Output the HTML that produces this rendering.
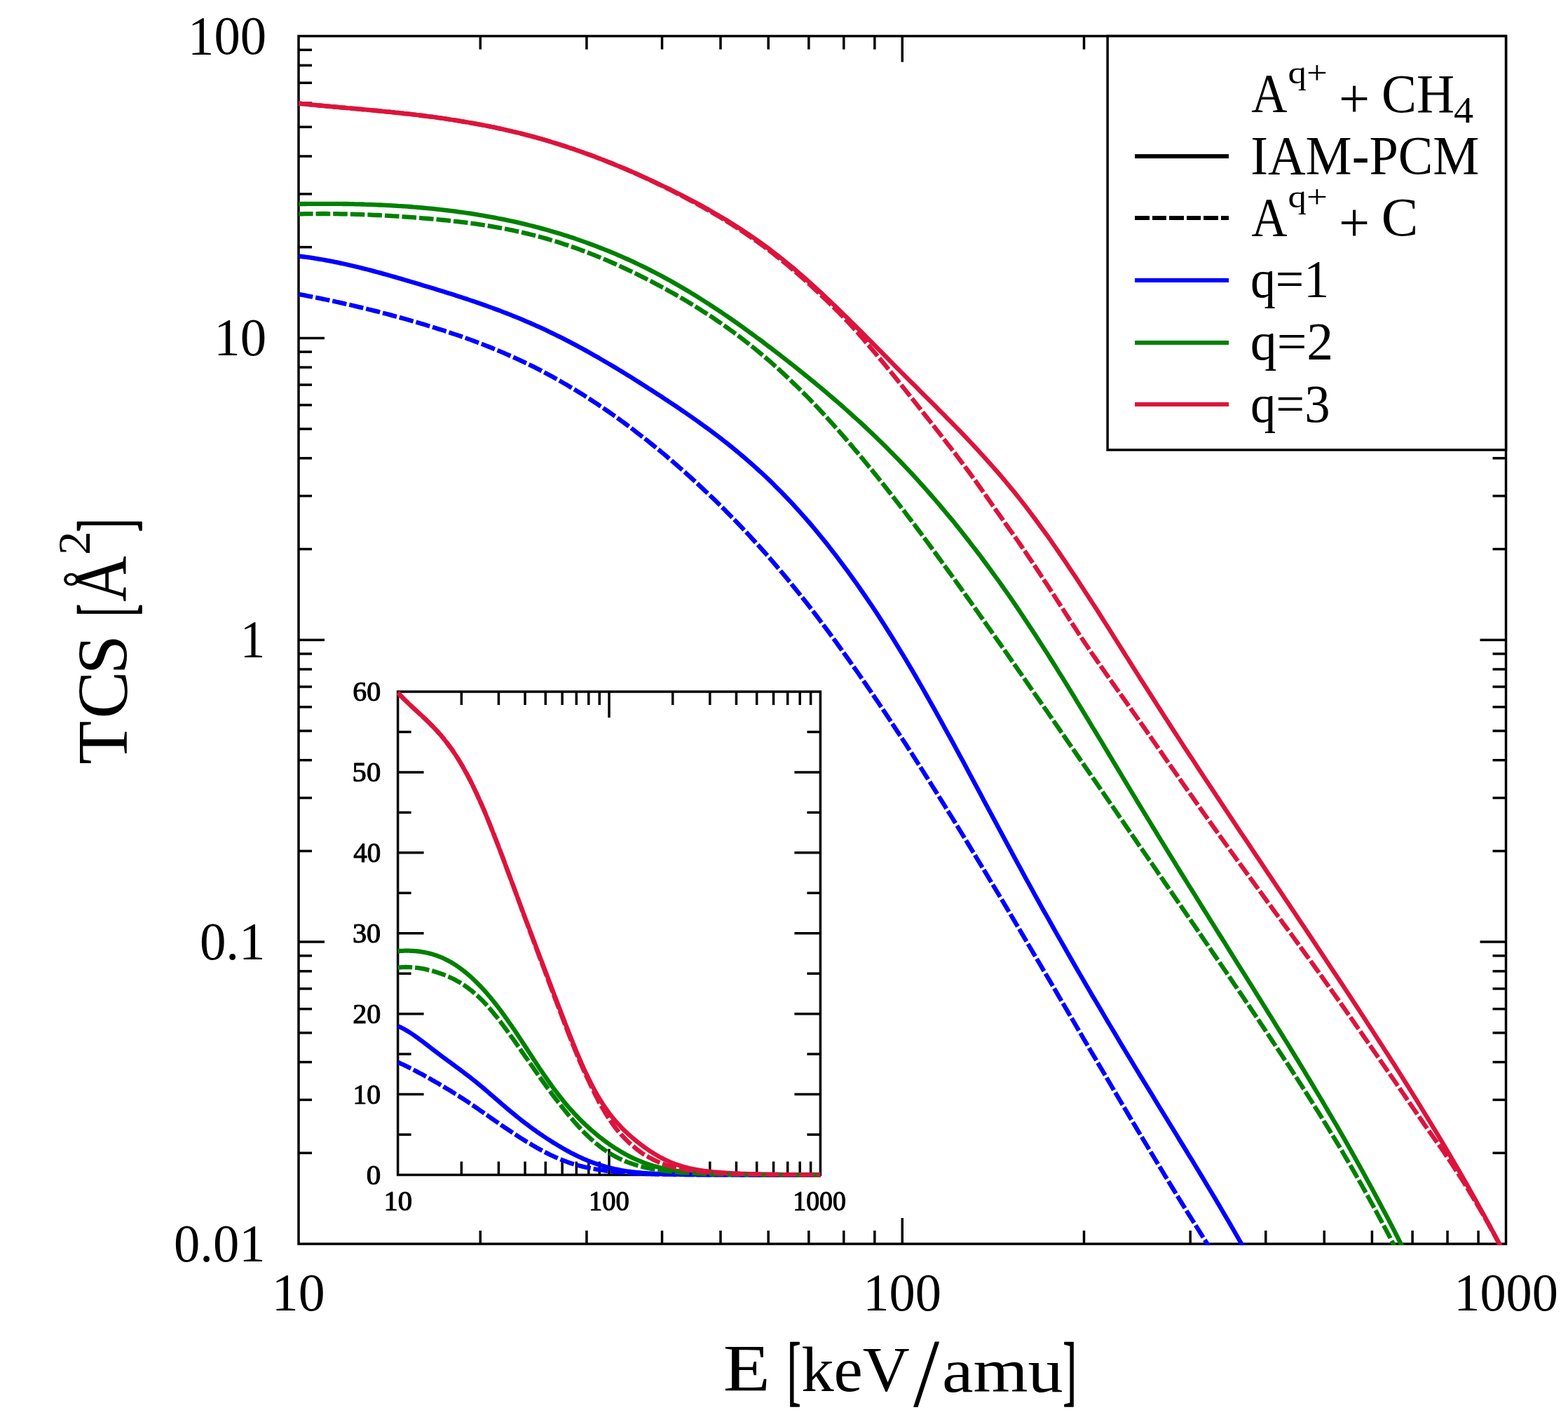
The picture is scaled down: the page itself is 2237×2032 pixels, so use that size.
<!DOCTYPE html>
<html lang="en"><head><meta charset="utf-8"><title>TCS vs E</title>
<style>html,body{margin:0;padding:0;background:#fff}svg{display:block}text{font-family:"Liberation Serif","DejaVu Serif",serif;fill:#000}</style>
</head><body>
<svg xmlns="http://www.w3.org/2000/svg" width="2237" height="2032" viewBox="0 0 2237 2032">
<rect x="0" y="0" width="2237" height="2032" fill="#fff"/>
<defs><clipPath id="cm"><rect x="424.0" y="49.5" width="1726.5" height="1727.5"/></clipPath>
<clipPath id="ci"><rect x="565.6" y="985.0" width="606.8" height="695.5"/></clipPath></defs>
<rect x="426.00" y="51.50" width="1722.50" height="1723.50" fill="none" stroke="#000" stroke-width="3.5"/>
<g stroke="#000" stroke-width="3.5" fill="none">
<line x1="685.26" y1="1775.00" x2="685.26" y2="1756.00"/>
<line x1="685.26" y1="51.50" x2="685.26" y2="70.50"/>
<line x1="836.92" y1="1775.00" x2="836.92" y2="1756.00"/>
<line x1="836.92" y1="51.50" x2="836.92" y2="70.50"/>
<line x1="944.52" y1="1775.00" x2="944.52" y2="1756.00"/>
<line x1="944.52" y1="51.50" x2="944.52" y2="70.50"/>
<line x1="1027.99" y1="1775.00" x2="1027.99" y2="1756.00"/>
<line x1="1027.99" y1="51.50" x2="1027.99" y2="70.50"/>
<line x1="1096.18" y1="1775.00" x2="1096.18" y2="1756.00"/>
<line x1="1096.18" y1="51.50" x2="1096.18" y2="70.50"/>
<line x1="1153.84" y1="1775.00" x2="1153.84" y2="1756.00"/>
<line x1="1153.84" y1="51.50" x2="1153.84" y2="70.50"/>
<line x1="1203.79" y1="1775.00" x2="1203.79" y2="1756.00"/>
<line x1="1203.79" y1="51.50" x2="1203.79" y2="70.50"/>
<line x1="1247.84" y1="1775.00" x2="1247.84" y2="1756.00"/>
<line x1="1247.84" y1="51.50" x2="1247.84" y2="70.50"/>
<line x1="1287.25" y1="1775.00" x2="1287.25" y2="1738.00"/>
<line x1="1287.25" y1="51.50" x2="1287.25" y2="88.50"/>
<line x1="1546.51" y1="1775.00" x2="1546.51" y2="1756.00"/>
<line x1="1546.51" y1="51.50" x2="1546.51" y2="70.50"/>
<line x1="1698.17" y1="1775.00" x2="1698.17" y2="1756.00"/>
<line x1="1698.17" y1="51.50" x2="1698.17" y2="70.50"/>
<line x1="1805.77" y1="1775.00" x2="1805.77" y2="1756.00"/>
<line x1="1805.77" y1="51.50" x2="1805.77" y2="70.50"/>
<line x1="1889.24" y1="1775.00" x2="1889.24" y2="1756.00"/>
<line x1="1889.24" y1="51.50" x2="1889.24" y2="70.50"/>
<line x1="1957.43" y1="1775.00" x2="1957.43" y2="1756.00"/>
<line x1="1957.43" y1="51.50" x2="1957.43" y2="70.50"/>
<line x1="2015.09" y1="1775.00" x2="2015.09" y2="1756.00"/>
<line x1="2015.09" y1="51.50" x2="2015.09" y2="70.50"/>
<line x1="2065.04" y1="1775.00" x2="2065.04" y2="1756.00"/>
<line x1="2065.04" y1="51.50" x2="2065.04" y2="70.50"/>
<line x1="2109.09" y1="1775.00" x2="2109.09" y2="1756.00"/>
<line x1="2109.09" y1="51.50" x2="2109.09" y2="70.50"/>
<line x1="426.00" y1="1645.29" x2="445.00" y2="1645.29"/>
<line x1="2148.50" y1="1645.29" x2="2129.50" y2="1645.29"/>
<line x1="426.00" y1="1569.42" x2="445.00" y2="1569.42"/>
<line x1="2148.50" y1="1569.42" x2="2129.50" y2="1569.42"/>
<line x1="426.00" y1="1515.59" x2="445.00" y2="1515.59"/>
<line x1="2148.50" y1="1515.59" x2="2129.50" y2="1515.59"/>
<line x1="426.00" y1="1473.83" x2="445.00" y2="1473.83"/>
<line x1="2148.50" y1="1473.83" x2="2129.50" y2="1473.83"/>
<line x1="426.00" y1="1439.71" x2="445.00" y2="1439.71"/>
<line x1="2148.50" y1="1439.71" x2="2129.50" y2="1439.71"/>
<line x1="426.00" y1="1410.87" x2="445.00" y2="1410.87"/>
<line x1="2148.50" y1="1410.87" x2="2129.50" y2="1410.87"/>
<line x1="426.00" y1="1385.88" x2="445.00" y2="1385.88"/>
<line x1="2148.50" y1="1385.88" x2="2129.50" y2="1385.88"/>
<line x1="426.00" y1="1363.84" x2="445.00" y2="1363.84"/>
<line x1="2148.50" y1="1363.84" x2="2129.50" y2="1363.84"/>
<line x1="426.00" y1="1344.12" x2="463.00" y2="1344.12"/>
<line x1="2148.50" y1="1344.12" x2="2111.50" y2="1344.12"/>
<line x1="426.00" y1="1214.42" x2="445.00" y2="1214.42"/>
<line x1="2148.50" y1="1214.42" x2="2129.50" y2="1214.42"/>
<line x1="426.00" y1="1138.55" x2="445.00" y2="1138.55"/>
<line x1="2148.50" y1="1138.55" x2="2129.50" y2="1138.55"/>
<line x1="426.00" y1="1084.71" x2="445.00" y2="1084.71"/>
<line x1="2148.50" y1="1084.71" x2="2129.50" y2="1084.71"/>
<line x1="426.00" y1="1042.96" x2="445.00" y2="1042.96"/>
<line x1="2148.50" y1="1042.96" x2="2129.50" y2="1042.96"/>
<line x1="426.00" y1="1008.84" x2="445.00" y2="1008.84"/>
<line x1="2148.50" y1="1008.84" x2="2129.50" y2="1008.84"/>
<line x1="426.00" y1="979.99" x2="445.00" y2="979.99"/>
<line x1="2148.50" y1="979.99" x2="2129.50" y2="979.99"/>
<line x1="426.00" y1="955.01" x2="445.00" y2="955.01"/>
<line x1="2148.50" y1="955.01" x2="2129.50" y2="955.01"/>
<line x1="426.00" y1="932.97" x2="445.00" y2="932.97"/>
<line x1="2148.50" y1="932.97" x2="2129.50" y2="932.97"/>
<line x1="426.00" y1="913.25" x2="463.00" y2="913.25"/>
<line x1="2148.50" y1="913.25" x2="2111.50" y2="913.25"/>
<line x1="426.00" y1="783.54" x2="445.00" y2="783.54"/>
<line x1="2148.50" y1="783.54" x2="2129.50" y2="783.54"/>
<line x1="426.00" y1="707.67" x2="445.00" y2="707.67"/>
<line x1="2148.50" y1="707.67" x2="2129.50" y2="707.67"/>
<line x1="426.00" y1="653.84" x2="445.00" y2="653.84"/>
<line x1="2148.50" y1="653.84" x2="2129.50" y2="653.84"/>
<line x1="426.00" y1="612.08" x2="445.00" y2="612.08"/>
<line x1="2148.50" y1="612.08" x2="2129.50" y2="612.08"/>
<line x1="426.00" y1="577.96" x2="445.00" y2="577.96"/>
<line x1="2148.50" y1="577.96" x2="2129.50" y2="577.96"/>
<line x1="426.00" y1="549.12" x2="445.00" y2="549.12"/>
<line x1="2148.50" y1="549.12" x2="2129.50" y2="549.12"/>
<line x1="426.00" y1="524.13" x2="445.00" y2="524.13"/>
<line x1="2148.50" y1="524.13" x2="2129.50" y2="524.13"/>
<line x1="426.00" y1="502.09" x2="445.00" y2="502.09"/>
<line x1="2148.50" y1="502.09" x2="2129.50" y2="502.09"/>
<line x1="426.00" y1="482.38" x2="463.00" y2="482.38"/>
<line x1="2148.50" y1="482.38" x2="2111.50" y2="482.38"/>
<line x1="426.00" y1="352.67" x2="445.00" y2="352.67"/>
<line x1="2148.50" y1="352.67" x2="2129.50" y2="352.67"/>
<line x1="426.00" y1="276.80" x2="445.00" y2="276.80"/>
<line x1="2148.50" y1="276.80" x2="2129.50" y2="276.80"/>
<line x1="426.00" y1="222.96" x2="445.00" y2="222.96"/>
<line x1="2148.50" y1="222.96" x2="2129.50" y2="222.96"/>
<line x1="426.00" y1="181.21" x2="445.00" y2="181.21"/>
<line x1="2148.50" y1="181.21" x2="2129.50" y2="181.21"/>
<line x1="426.00" y1="147.09" x2="445.00" y2="147.09"/>
<line x1="2148.50" y1="147.09" x2="2129.50" y2="147.09"/>
<line x1="426.00" y1="118.24" x2="445.00" y2="118.24"/>
<line x1="2148.50" y1="118.24" x2="2129.50" y2="118.24"/>
<line x1="426.00" y1="93.26" x2="445.00" y2="93.26"/>
<line x1="2148.50" y1="93.26" x2="2129.50" y2="93.26"/>
<line x1="426.00" y1="71.22" x2="445.00" y2="71.22"/>
<line x1="2148.50" y1="71.22" x2="2129.50" y2="71.22"/>
</g>
<path d="M426.0,365.5 L430.3,366.0 L434.6,366.5 L438.9,367.1 L443.2,367.7 L447.5,368.4 L451.8,369.1 L456.1,369.8 L460.5,370.5 L464.8,371.3 L469.1,372.1 L473.4,372.9 L477.7,373.8 L482.0,374.7 L486.3,375.6 L490.6,376.5 L494.9,377.5 L499.2,378.5 L503.5,379.5 L507.8,380.5 L512.1,381.5 L516.4,382.6 L520.7,383.7 L525.0,384.8 L529.4,385.9 L533.7,387.1 L538.0,388.2 L542.3,389.4 L546.6,390.6 L550.9,391.8 L555.2,393.0 L559.5,394.2 L563.8,395.4 L568.1,396.7 L572.4,397.9 L576.7,399.2 L581.0,400.5 L585.3,401.7 L589.6,403.0 L593.9,404.3 L598.2,405.6 L602.6,406.9 L606.9,408.2 L611.2,409.5 L615.5,410.8 L619.8,412.1 L624.1,413.4 L628.4,414.7 L632.7,416.1 L637.0,417.4 L641.3,418.8 L645.6,420.1 L649.9,421.5 L654.2,422.9 L658.5,424.3 L662.8,425.7 L667.2,427.1 L671.5,428.6 L675.8,430.0 L680.1,431.5 L684.4,433.0 L688.7,434.5 L693.0,436.0 L697.3,437.6 L701.6,439.1 L705.9,440.7 L710.2,442.3 L714.5,443.9 L718.8,445.6 L723.1,447.3 L727.4,448.9 L731.7,450.7 L736.1,452.4 L740.4,454.2 L744.7,455.9 L749.0,457.8 L753.3,459.6 L757.6,461.5 L761.9,463.4 L766.2,465.3 L770.5,467.2 L774.8,469.2 L779.1,471.2 L783.4,473.3 L787.7,475.4 L792.0,477.5 L796.3,479.6 L800.6,481.7 L804.9,483.9 L809.3,486.1 L813.6,488.4 L817.9,490.6 L822.2,492.9 L826.5,495.2 L830.8,497.6 L835.1,499.9 L839.4,502.3 L843.7,504.7 L848.0,507.2 L852.3,509.6 L856.6,512.1 L860.9,514.6 L865.2,517.1 L869.5,519.6 L873.9,522.2 L878.2,524.8 L882.5,527.4 L886.8,530.0 L891.1,532.6 L895.4,535.3 L899.7,537.9 L904.0,540.6 L908.3,543.3 L912.6,546.0 L916.9,548.8 L921.2,551.5 L925.5,554.3 L929.8,557.0 L934.1,559.8 L938.4,562.6 L942.8,565.4 L947.1,568.3 L951.4,571.1 L955.7,574.0 L960.0,576.8 L964.3,579.7 L968.6,582.6 L972.9,585.6 L977.2,588.5 L981.5,591.5 L985.8,594.5 L990.1,597.5 L994.4,600.5 L998.7,603.6 L1003.0,606.7 L1007.3,609.9 L1011.7,613.0 L1016.0,616.3 L1020.3,619.5 L1024.6,622.8 L1028.9,626.1 L1033.2,629.4 L1037.5,632.8 L1041.8,636.3 L1046.1,639.8 L1050.4,643.3 L1054.7,646.9 L1059.0,650.5 L1063.3,654.2 L1067.6,657.9 L1071.9,661.6 L1076.2,665.5 L1080.5,669.4 L1084.9,673.3 L1089.2,677.3 L1093.5,681.3 L1097.8,685.4 L1102.1,689.6 L1106.4,693.9 L1110.7,698.2 L1115.0,702.5 L1119.3,707.0 L1123.6,711.5 L1127.9,716.0 L1132.2,720.7 L1136.5,725.4 L1140.8,730.1 L1145.1,735.0 L1149.5,739.9 L1153.8,744.9 L1158.1,749.9 L1162.4,755.0 L1166.7,760.2 L1171.0,765.4 L1175.3,770.8 L1179.6,776.1 L1183.9,781.6 L1188.2,787.1 L1192.5,792.7 L1196.8,798.4 L1201.1,804.1 L1205.4,809.9 L1209.7,815.7 L1214.0,821.7 L1218.3,827.7 L1222.7,833.7 L1227.0,839.9 L1231.3,846.1 L1235.6,852.4 L1239.9,858.7 L1244.2,865.1 L1248.5,871.6 L1252.8,878.1 L1257.1,884.7 L1261.4,891.4 L1265.7,898.2 L1270.0,905.0 L1274.3,911.9 L1278.6,918.8 L1282.9,925.8 L1287.2,932.9 L1291.6,940.1 L1295.9,947.3 L1300.2,954.6 L1304.5,961.9 L1308.8,969.3 L1313.1,976.8 L1317.4,984.3 L1321.7,991.9 L1326.0,999.5 L1330.3,1007.1 L1334.6,1014.8 L1338.9,1022.6 L1343.2,1030.3 L1347.5,1038.2 L1351.8,1046.0 L1356.2,1053.9 L1360.5,1061.8 L1364.8,1069.7 L1369.1,1077.7 L1373.4,1085.6 L1377.7,1093.6 L1382.0,1101.7 L1386.3,1109.7 L1390.6,1117.7 L1394.9,1125.8 L1399.2,1133.8 L1403.5,1141.9 L1407.8,1149.9 L1412.1,1158.0 L1416.4,1166.1 L1420.7,1174.1 L1425.1,1182.2 L1429.4,1190.2 L1433.7,1198.2 L1438.0,1206.3 L1442.3,1214.2 L1446.6,1222.2 L1450.9,1230.2 L1455.2,1238.1 L1459.5,1246.0 L1463.8,1253.9 L1468.1,1261.7 L1472.4,1269.6 L1476.7,1277.4 L1481.0,1285.1 L1485.3,1292.9 L1489.6,1300.6 L1494.0,1308.3 L1498.3,1315.9 L1502.6,1323.6 L1506.9,1331.2 L1511.2,1338.8 L1515.5,1346.3 L1519.8,1353.9 L1524.1,1361.4 L1528.4,1368.9 L1532.7,1376.4 L1537.0,1383.8 L1541.3,1391.3 L1545.6,1398.7 L1549.9,1406.1 L1554.2,1413.4 L1558.5,1420.8 L1562.9,1428.1 L1567.2,1435.4 L1571.5,1442.7 L1575.8,1450.0 L1580.1,1457.3 L1584.4,1464.5 L1588.7,1471.7 L1593.0,1478.9 L1597.3,1486.1 L1601.6,1493.3 L1605.9,1500.5 L1610.2,1507.6 L1614.5,1514.7 L1618.8,1521.8 L1623.1,1528.9 L1627.4,1536.0 L1631.8,1543.1 L1636.1,1550.2 L1640.4,1557.2 L1644.7,1564.2 L1649.0,1571.3 L1653.3,1578.3 L1657.6,1585.3 L1661.9,1592.3 L1666.2,1599.4 L1670.5,1606.4 L1674.8,1613.4 L1679.1,1620.4 L1683.4,1627.5 L1687.7,1634.5 L1692.0,1641.5 L1696.3,1648.6 L1700.7,1655.7 L1705.0,1662.8 L1709.3,1669.9 L1713.6,1677.0 L1717.9,1684.1 L1722.2,1691.3 L1726.5,1698.5 L1730.8,1705.7 L1735.1,1712.9 L1739.4,1720.2 L1743.7,1727.5 L1748.0,1734.8 L1752.3,1742.2 L1756.6,1749.6 L1760.9,1757.0 L1765.2,1764.5 L1769.5,1772.0 L1773.9,1779.6 L1778.2,1787.1 L1782.5,1794.7 L1786.8,1802.2 L1791.1,1809.8" fill="none" stroke="#0000ff" stroke-width="6.3" stroke-linejoin="round" clip-path="url(#cm)"/>
<path d="M426.0,291.1 L430.3,291.0 L434.6,291.0 L438.9,290.9 L443.2,290.9 L447.5,290.8 L451.8,290.8 L456.1,290.8 L460.5,290.8 L464.8,290.8 L469.1,290.8 L473.4,290.8 L477.7,290.8 L482.0,290.9 L486.3,290.9 L490.6,291.0 L494.9,291.0 L499.2,291.1 L503.5,291.2 L507.8,291.3 L512.1,291.4 L516.4,291.5 L520.7,291.7 L525.0,291.8 L529.4,291.9 L533.7,292.1 L538.0,292.3 L542.3,292.5 L546.6,292.7 L550.9,292.9 L555.2,293.1 L559.5,293.3 L563.8,293.6 L568.1,293.9 L572.4,294.1 L576.7,294.4 L581.0,294.7 L585.3,295.0 L589.6,295.4 L593.9,295.7 L598.2,296.1 L602.6,296.5 L606.9,296.9 L611.2,297.3 L615.5,297.7 L619.8,298.1 L624.1,298.6 L628.4,299.1 L632.7,299.6 L637.0,300.1 L641.3,300.6 L645.6,301.1 L649.9,301.7 L654.2,302.3 L658.5,302.9 L662.8,303.5 L667.2,304.1 L671.5,304.7 L675.8,305.4 L680.1,306.1 L684.4,306.8 L688.7,307.5 L693.0,308.3 L697.3,309.1 L701.6,309.8 L705.9,310.6 L710.2,311.5 L714.5,312.3 L718.8,313.2 L723.1,314.1 L727.4,315.0 L731.7,315.9 L736.1,316.9 L740.4,317.9 L744.7,318.9 L749.0,319.9 L753.3,321.0 L757.6,322.0 L761.9,323.1 L766.2,324.3 L770.5,325.4 L774.8,326.6 L779.1,327.8 L783.4,329.0 L787.7,330.2 L792.0,331.5 L796.3,332.8 L800.6,334.1 L804.9,335.5 L809.3,336.8 L813.6,338.2 L817.9,339.6 L822.2,341.1 L826.5,342.6 L830.8,344.1 L835.1,345.6 L839.4,347.2 L843.7,348.7 L848.0,350.4 L852.3,352.0 L856.6,353.7 L860.9,355.4 L865.2,357.1 L869.5,358.8 L873.9,360.6 L878.2,362.4 L882.5,364.3 L886.8,366.2 L891.1,368.1 L895.4,370.0 L899.7,371.9 L904.0,373.9 L908.3,376.0 L912.6,378.0 L916.9,380.1 L921.2,382.2 L925.5,384.4 L929.8,386.6 L934.1,388.8 L938.4,391.0 L942.8,393.3 L947.1,395.6 L951.4,398.0 L955.7,400.3 L960.0,402.8 L964.3,405.2 L968.6,407.7 L972.9,410.2 L977.2,412.7 L981.5,415.3 L985.8,417.9 L990.1,420.5 L994.4,423.2 L998.7,425.9 L1003.0,428.6 L1007.3,431.4 L1011.7,434.2 L1016.0,437.0 L1020.3,439.8 L1024.6,442.7 L1028.9,445.5 L1033.2,448.5 L1037.5,451.4 L1041.8,454.4 L1046.1,457.4 L1050.4,460.4 L1054.7,463.4 L1059.0,466.5 L1063.3,469.6 L1067.6,472.7 L1071.9,475.9 L1076.2,479.0 L1080.5,482.2 L1084.9,485.4 L1089.2,488.6 L1093.5,491.9 L1097.8,495.1 L1102.1,498.4 L1106.4,501.7 L1110.7,505.0 L1115.0,508.4 L1119.3,511.7 L1123.6,515.1 L1127.9,518.5 L1132.2,521.9 L1136.5,525.3 L1140.8,528.7 L1145.1,532.2 L1149.5,535.7 L1153.8,539.2 L1158.1,542.7 L1162.4,546.2 L1166.7,549.8 L1171.0,553.4 L1175.3,557.0 L1179.6,560.6 L1183.9,564.3 L1188.2,568.0 L1192.5,571.7 L1196.8,575.4 L1201.1,579.2 L1205.4,583.0 L1209.7,586.8 L1214.0,590.7 L1218.3,594.6 L1222.7,598.5 L1227.0,602.4 L1231.3,606.4 L1235.6,610.4 L1239.9,614.5 L1244.2,618.6 L1248.5,622.7 L1252.8,626.9 L1257.1,631.0 L1261.4,635.3 L1265.7,639.6 L1270.0,643.9 L1274.3,648.2 L1278.6,652.6 L1282.9,657.0 L1287.2,661.5 L1291.6,666.1 L1295.9,670.6 L1300.2,675.2 L1304.5,679.9 L1308.8,684.6 L1313.1,689.3 L1317.4,694.1 L1321.7,699.0 L1326.0,703.9 L1330.3,708.8 L1334.6,713.8 L1338.9,718.8 L1343.2,723.9 L1347.5,729.0 L1351.8,734.2 L1356.2,739.4 L1360.5,744.6 L1364.8,750.0 L1369.1,755.3 L1373.4,760.7 L1377.7,766.2 L1382.0,771.7 L1386.3,777.3 L1390.6,782.9 L1394.9,788.5 L1399.2,794.2 L1403.5,800.0 L1407.8,805.8 L1412.1,811.6 L1416.4,817.6 L1420.7,823.5 L1425.1,829.5 L1429.4,835.6 L1433.7,841.7 L1438.0,847.8 L1442.3,854.0 L1446.6,860.3 L1450.9,866.6 L1455.2,873.0 L1459.5,879.4 L1463.8,885.9 L1468.1,892.4 L1472.4,898.9 L1476.7,905.5 L1481.0,912.2 L1485.3,918.9 L1489.6,925.6 L1494.0,932.4 L1498.3,939.2 L1502.6,946.0 L1506.9,952.9 L1511.2,959.8 L1515.5,966.7 L1519.8,973.7 L1524.1,980.7 L1528.4,987.7 L1532.7,994.7 L1537.0,1001.8 L1541.3,1008.8 L1545.6,1015.9 L1549.9,1023.0 L1554.2,1030.1 L1558.5,1037.3 L1562.9,1044.4 L1567.2,1051.6 L1571.5,1058.7 L1575.8,1065.9 L1580.1,1073.0 L1584.4,1080.2 L1588.7,1087.4 L1593.0,1094.5 L1597.3,1101.7 L1601.6,1108.9 L1605.9,1116.0 L1610.2,1123.2 L1614.5,1130.3 L1618.8,1137.4 L1623.1,1144.6 L1627.4,1151.7 L1631.8,1158.8 L1636.1,1165.9 L1640.4,1172.9 L1644.7,1180.0 L1649.0,1187.0 L1653.3,1194.1 L1657.6,1201.1 L1661.9,1208.1 L1666.2,1215.1 L1670.5,1222.1 L1674.8,1229.1 L1679.1,1236.1 L1683.4,1243.0 L1687.7,1250.0 L1692.0,1256.9 L1696.3,1263.9 L1700.7,1270.8 L1705.0,1277.7 L1709.3,1284.6 L1713.6,1291.6 L1717.9,1298.5 L1722.2,1305.4 L1726.5,1312.3 L1730.8,1319.2 L1735.1,1326.1 L1739.4,1333.0 L1743.7,1339.8 L1748.0,1346.7 L1752.3,1353.6 L1756.6,1360.5 L1760.9,1367.4 L1765.2,1374.3 L1769.5,1381.2 L1773.9,1388.1 L1778.2,1394.9 L1782.5,1401.8 L1786.8,1408.7 L1791.1,1415.6 L1795.4,1422.5 L1799.7,1429.4 L1804.0,1436.3 L1808.3,1443.3 L1812.6,1450.2 L1816.9,1457.1 L1821.2,1464.1 L1825.5,1471.0 L1829.8,1478.0 L1834.1,1484.9 L1838.5,1491.9 L1842.8,1499.0 L1847.1,1506.0 L1851.4,1513.0 L1855.7,1520.1 L1860.0,1527.2 L1864.3,1534.3 L1868.6,1541.4 L1872.9,1548.6 L1877.2,1555.8 L1881.5,1563.0 L1885.8,1570.2 L1890.1,1577.5 L1894.4,1584.8 L1898.7,1592.2 L1903.0,1599.5 L1907.4,1606.9 L1911.7,1614.4 L1916.0,1621.9 L1920.3,1629.4 L1924.6,1637.0 L1928.9,1644.6 L1933.2,1652.3 L1937.5,1660.0 L1941.8,1667.7 L1946.1,1675.5 L1950.4,1683.4 L1954.7,1691.3 L1959.0,1699.2 L1963.3,1707.2 L1967.6,1715.3 L1971.9,1723.4 L1976.2,1731.5 L1980.6,1739.8 L1984.9,1748.0 L1989.2,1756.4 L1993.5,1764.8 L1997.8,1773.3 L2002.1,1781.8 L2006.4,1790.3 L2010.7,1798.8 L2015.0,1807.3" fill="none" stroke="#008000" stroke-width="6.3" stroke-linejoin="round" clip-path="url(#cm)"/>
<path d="M426.0,147.5 L430.3,148.0 L434.6,148.4 L438.9,148.8 L443.2,149.3 L447.5,149.7 L451.8,150.1 L456.1,150.5 L460.5,150.9 L464.8,151.3 L469.1,151.7 L473.4,152.1 L477.7,152.5 L482.0,152.9 L486.3,153.3 L490.6,153.7 L494.9,154.1 L499.2,154.4 L503.5,154.8 L507.8,155.2 L512.1,155.6 L516.4,156.0 L520.7,156.4 L525.0,156.8 L529.4,157.2 L533.7,157.6 L538.0,158.0 L542.3,158.4 L546.6,158.8 L550.9,159.3 L555.2,159.7 L559.5,160.1 L563.8,160.6 L568.1,161.0 L572.4,161.5 L576.7,162.0 L581.0,162.4 L585.3,162.9 L589.6,163.4 L593.9,163.9 L598.2,164.5 L602.6,165.0 L606.9,165.5 L611.2,166.1 L615.5,166.6 L619.8,167.2 L624.1,167.8 L628.4,168.4 L632.7,169.0 L637.0,169.7 L641.3,170.3 L645.6,171.0 L649.9,171.7 L654.2,172.4 L658.5,173.1 L662.8,173.8 L667.2,174.5 L671.5,175.3 L675.8,176.1 L680.1,176.8 L684.4,177.6 L688.7,178.5 L693.0,179.3 L697.3,180.2 L701.6,181.0 L705.9,181.9 L710.2,182.9 L714.5,183.8 L718.8,184.7 L723.1,185.7 L727.4,186.7 L731.7,187.7 L736.1,188.8 L740.4,189.8 L744.7,190.9 L749.0,192.0 L753.3,193.1 L757.6,194.2 L761.9,195.4 L766.2,196.6 L770.5,197.8 L774.8,199.0 L779.1,200.3 L783.4,201.6 L787.7,202.9 L792.0,204.2 L796.3,205.5 L800.6,206.9 L804.9,208.3 L809.3,209.7 L813.6,211.2 L817.9,212.6 L822.2,214.1 L826.5,215.6 L830.8,217.1 L835.1,218.7 L839.4,220.2 L843.7,221.8 L848.0,223.4 L852.3,225.1 L856.6,226.7 L860.9,228.4 L865.2,230.1 L869.5,231.8 L873.9,233.5 L878.2,235.3 L882.5,237.1 L886.8,238.8 L891.1,240.7 L895.4,242.5 L899.7,244.4 L904.0,246.2 L908.3,248.1 L912.6,250.0 L916.9,252.0 L921.2,253.9 L925.5,255.9 L929.8,257.9 L934.1,259.9 L938.4,261.9 L942.8,264.0 L947.1,266.0 L951.4,268.1 L955.7,270.2 L960.0,272.3 L964.3,274.5 L968.6,276.6 L972.9,278.8 L977.2,281.0 L981.5,283.2 L985.8,285.5 L990.1,287.8 L994.4,290.1 L998.7,292.4 L1003.0,294.8 L1007.3,297.2 L1011.7,299.6 L1016.0,302.1 L1020.3,304.6 L1024.6,307.1 L1028.9,309.6 L1033.2,312.2 L1037.5,314.8 L1041.8,317.5 L1046.1,320.2 L1050.4,322.9 L1054.7,325.7 L1059.0,328.5 L1063.3,331.3 L1067.6,334.2 L1071.9,337.1 L1076.2,340.1 L1080.5,343.1 L1084.9,346.2 L1089.2,349.3 L1093.5,352.4 L1097.8,355.6 L1102.1,358.9 L1106.4,362.2 L1110.7,365.5 L1115.0,368.9 L1119.3,372.4 L1123.6,375.9 L1127.9,379.4 L1132.2,383.0 L1136.5,386.7 L1140.8,390.4 L1145.1,394.1 L1149.5,397.9 L1153.8,401.8 L1158.1,405.6 L1162.4,409.5 L1166.7,413.5 L1171.0,417.4 L1175.3,421.5 L1179.6,425.5 L1183.9,429.6 L1188.2,433.7 L1192.5,437.8 L1196.8,442.0 L1201.1,446.2 L1205.4,450.4 L1209.7,454.6 L1214.0,458.9 L1218.3,463.1 L1222.7,467.4 L1227.0,471.7 L1231.3,476.0 L1235.6,480.4 L1239.9,484.7 L1244.2,489.0 L1248.5,493.4 L1252.8,497.8 L1257.1,502.1 L1261.4,506.5 L1265.7,510.8 L1270.0,515.2 L1274.3,519.6 L1278.6,523.9 L1282.9,528.2 L1287.2,532.6 L1291.6,536.9 L1295.9,541.2 L1300.2,545.5 L1304.5,549.8 L1308.8,554.1 L1313.1,558.4 L1317.4,562.7 L1321.7,566.9 L1326.0,571.2 L1330.3,575.5 L1334.6,579.8 L1338.9,584.2 L1343.2,588.5 L1347.5,592.8 L1351.8,597.2 L1356.2,601.6 L1360.5,606.0 L1364.8,610.4 L1369.1,614.8 L1373.4,619.3 L1377.7,623.8 L1382.0,628.4 L1386.3,632.9 L1390.6,637.5 L1394.9,642.2 L1399.2,646.8 L1403.5,651.6 L1407.8,656.3 L1412.1,661.1 L1416.4,666.0 L1420.7,670.9 L1425.1,675.9 L1429.4,680.9 L1433.7,686.0 L1438.0,691.2 L1442.3,696.4 L1446.6,701.6 L1450.9,707.0 L1455.2,712.4 L1459.5,717.9 L1463.8,723.4 L1468.1,729.1 L1472.4,734.8 L1476.7,740.5 L1481.0,746.4 L1485.3,752.3 L1489.6,758.2 L1494.0,764.2 L1498.3,770.3 L1502.6,776.5 L1506.9,782.7 L1511.2,788.9 L1515.5,795.2 L1519.8,801.5 L1524.1,807.9 L1528.4,814.4 L1532.7,820.8 L1537.0,827.3 L1541.3,833.9 L1545.6,840.5 L1549.9,847.1 L1554.2,853.7 L1558.5,860.4 L1562.9,867.1 L1567.2,873.8 L1571.5,880.6 L1575.8,887.4 L1580.1,894.1 L1584.4,900.9 L1588.7,907.8 L1593.0,914.6 L1597.3,921.4 L1601.6,928.2 L1605.9,935.1 L1610.2,941.9 L1614.5,948.7 L1618.8,955.6 L1623.1,962.4 L1627.4,969.2 L1631.8,976.0 L1636.1,982.8 L1640.4,989.5 L1644.7,996.3 L1649.0,1003.0 L1653.3,1009.8 L1657.6,1016.5 L1661.9,1023.2 L1666.2,1029.8 L1670.5,1036.5 L1674.8,1043.2 L1679.1,1049.8 L1683.4,1056.4 L1687.7,1063.1 L1692.0,1069.7 L1696.3,1076.3 L1700.7,1082.8 L1705.0,1089.4 L1709.3,1096.0 L1713.6,1102.5 L1717.9,1109.1 L1722.2,1115.6 L1726.5,1122.1 L1730.8,1128.6 L1735.1,1135.1 L1739.4,1141.6 L1743.7,1148.1 L1748.0,1154.6 L1752.3,1161.1 L1756.6,1167.6 L1760.9,1174.0 L1765.2,1180.5 L1769.5,1186.9 L1773.9,1193.4 L1778.2,1199.8 L1782.5,1206.3 L1786.8,1212.7 L1791.1,1219.2 L1795.4,1225.6 L1799.7,1232.0 L1804.0,1238.5 L1808.3,1244.9 L1812.6,1251.3 L1816.9,1257.8 L1821.2,1264.2 L1825.5,1270.6 L1829.8,1277.1 L1834.1,1283.5 L1838.5,1289.9 L1842.8,1296.4 L1847.1,1302.8 L1851.4,1309.2 L1855.7,1315.7 L1860.0,1322.1 L1864.3,1328.6 L1868.6,1335.1 L1872.9,1341.5 L1877.2,1348.0 L1881.5,1354.5 L1885.8,1361.0 L1890.1,1367.4 L1894.4,1373.9 L1898.7,1380.4 L1903.0,1386.9 L1907.4,1393.5 L1911.7,1400.0 L1916.0,1406.5 L1920.3,1413.1 L1924.6,1419.6 L1928.9,1426.2 L1933.2,1432.7 L1937.5,1439.3 L1941.8,1445.9 L1946.1,1452.5 L1950.4,1459.1 L1954.7,1465.8 L1959.0,1472.4 L1963.3,1479.1 L1967.6,1485.7 L1971.9,1492.4 L1976.2,1499.1 L1980.6,1505.8 L1984.9,1512.6 L1989.2,1519.3 L1993.5,1526.1 L1997.8,1532.9 L2002.1,1539.7 L2006.4,1546.5 L2010.7,1553.4 L2015.0,1560.3 L2019.3,1567.2 L2023.6,1574.1 L2027.9,1581.1 L2032.2,1588.1 L2036.5,1595.1 L2040.8,1602.2 L2045.1,1609.3 L2049.5,1616.4 L2053.8,1623.6 L2058.1,1630.8 L2062.4,1638.0 L2066.7,1645.3 L2071.0,1652.6 L2075.3,1660.0 L2079.6,1667.4 L2083.9,1674.9 L2088.2,1682.4 L2092.5,1689.9 L2096.8,1697.5 L2101.1,1705.2 L2105.4,1712.9 L2109.7,1720.7 L2114.1,1728.5 L2118.4,1736.3 L2122.7,1744.3 L2127.0,1752.3 L2131.3,1760.3 L2135.6,1768.4 L2139.9,1776.6 L2144.2,1784.7 L2148.5,1792.9" fill="none" stroke="#dc143c" stroke-width="6.3" stroke-linejoin="round" clip-path="url(#cm)"/>
<path d="M426.0,419.8 L430.3,420.6 L434.6,421.4 L438.9,422.3 L443.2,423.1 L447.5,424.0 L451.8,424.8 L456.1,425.7 L460.5,426.6 L464.8,427.5 L469.1,428.4 L473.4,429.3 L477.7,430.2 L482.0,431.2 L486.3,432.1 L490.6,433.1 L494.9,434.1 L499.2,435.0 L503.5,436.0 L507.8,437.1 L512.1,438.1 L516.4,439.1 L520.7,440.1 L525.0,441.2 L529.4,442.3 L533.7,443.4 L538.0,444.4 L542.3,445.6 L546.6,446.7 L550.9,447.8 L555.2,448.9 L559.5,450.1 L563.8,451.3 L568.1,452.4 L572.4,453.6 L576.7,454.8 L581.0,456.0 L585.3,457.3 L589.6,458.5 L593.9,459.7 L598.2,461.0 L602.6,462.3 L606.9,463.6 L611.2,464.9 L615.5,466.2 L619.8,467.5 L624.1,468.9 L628.4,470.3 L632.7,471.6 L637.0,473.0 L641.3,474.5 L645.6,475.9 L649.9,477.4 L654.2,478.8 L658.5,480.3 L662.8,481.8 L667.2,483.4 L671.5,484.9 L675.8,486.5 L680.1,488.1 L684.4,489.8 L688.7,491.4 L693.0,493.1 L697.3,494.8 L701.6,496.5 L705.9,498.3 L710.2,500.1 L714.5,501.9 L718.8,503.7 L723.1,505.6 L727.4,507.5 L731.7,509.4 L736.1,511.4 L740.4,513.3 L744.7,515.4 L749.0,517.4 L753.3,519.5 L757.6,521.6 L761.9,523.7 L766.2,525.9 L770.5,528.1 L774.8,530.4 L779.1,532.7 L783.4,535.0 L787.7,537.3 L792.0,539.7 L796.3,542.1 L800.6,544.6 L804.9,547.1 L809.3,549.6 L813.6,552.2 L817.9,554.7 L822.2,557.4 L826.5,560.0 L830.8,562.7 L835.1,565.4 L839.4,568.2 L843.7,571.0 L848.0,573.8 L852.3,576.7 L856.6,579.6 L860.9,582.5 L865.2,585.4 L869.5,588.4 L873.9,591.5 L878.2,594.5 L882.5,597.6 L886.8,600.7 L891.1,603.9 L895.4,607.1 L899.7,610.3 L904.0,613.6 L908.3,616.9 L912.6,620.2 L916.9,623.5 L921.2,626.9 L925.5,630.3 L929.8,633.8 L934.1,637.3 L938.4,640.8 L942.8,644.3 L947.1,647.9 L951.4,651.5 L955.7,655.2 L960.0,658.9 L964.3,662.6 L968.6,666.3 L972.9,670.1 L977.2,673.9 L981.5,677.8 L985.8,681.7 L990.1,685.6 L994.4,689.6 L998.7,693.6 L1003.0,697.6 L1007.3,701.7 L1011.7,705.8 L1016.0,709.9 L1020.3,714.1 L1024.6,718.3 L1028.9,722.6 L1033.2,726.8 L1037.5,731.2 L1041.8,735.6 L1046.1,740.0 L1050.4,744.4 L1054.7,748.9 L1059.0,753.4 L1063.3,758.0 L1067.6,762.6 L1071.9,767.3 L1076.2,772.0 L1080.5,776.7 L1084.9,781.5 L1089.2,786.3 L1093.5,791.2 L1097.8,796.1 L1102.1,801.1 L1106.4,806.1 L1110.7,811.2 L1115.0,816.3 L1119.3,821.4 L1123.6,826.6 L1127.9,831.9 L1132.2,837.2 L1136.5,842.5 L1140.8,847.9 L1145.1,853.3 L1149.5,858.8 L1153.8,864.3 L1158.1,869.9 L1162.4,875.5 L1166.7,881.2 L1171.0,886.8 L1175.3,892.6 L1179.6,898.4 L1183.9,904.2 L1188.2,910.0 L1192.5,915.9 L1196.8,921.9 L1201.1,927.8 L1205.4,933.9 L1209.7,939.9 L1214.0,946.0 L1218.3,952.1 L1222.7,958.3 L1227.0,964.5 L1231.3,970.7 L1235.6,976.9 L1239.9,983.2 L1244.2,989.5 L1248.5,995.9 L1252.8,1002.3 L1257.1,1008.7 L1261.4,1015.1 L1265.7,1021.6 L1270.0,1028.1 L1274.3,1034.7 L1278.6,1041.2 L1282.9,1047.8 L1287.2,1054.4 L1291.6,1061.1 L1295.9,1067.7 L1300.2,1074.4 L1304.5,1081.1 L1308.8,1087.9 L1313.1,1094.6 L1317.4,1101.4 L1321.7,1108.2 L1326.0,1115.0 L1330.3,1121.9 L1334.6,1128.7 L1338.9,1135.6 L1343.2,1142.5 L1347.5,1149.4 L1351.8,1156.4 L1356.2,1163.4 L1360.5,1170.3 L1364.8,1177.3 L1369.1,1184.3 L1373.4,1191.4 L1377.7,1198.4 L1382.0,1205.5 L1386.3,1212.6 L1390.6,1219.7 L1394.9,1226.8 L1399.2,1233.9 L1403.5,1241.0 L1407.8,1248.2 L1412.1,1255.3 L1416.4,1262.5 L1420.7,1269.7 L1425.1,1276.9 L1429.4,1284.1 L1433.7,1291.3 L1438.0,1298.6 L1442.3,1305.8 L1446.6,1313.1 L1450.9,1320.3 L1455.2,1327.6 L1459.5,1334.9 L1463.8,1342.2 L1468.1,1349.5 L1472.4,1356.8 L1476.7,1364.1 L1481.0,1371.4 L1485.3,1378.7 L1489.6,1386.1 L1494.0,1393.4 L1498.3,1400.7 L1502.6,1408.1 L1506.9,1415.4 L1511.2,1422.8 L1515.5,1430.1 L1519.8,1437.5 L1524.1,1444.8 L1528.4,1452.2 L1532.7,1459.5 L1537.0,1466.9 L1541.3,1474.2 L1545.6,1481.6 L1549.9,1488.9 L1554.2,1496.3 L1558.5,1503.6 L1562.9,1510.9 L1567.2,1518.3 L1571.5,1525.6 L1575.8,1532.9 L1580.1,1540.2 L1584.4,1547.5 L1588.7,1554.8 L1593.0,1562.1 L1597.3,1569.4 L1601.6,1576.7 L1605.9,1583.9 L1610.2,1591.2 L1614.5,1598.4 L1618.8,1605.7 L1623.1,1612.9 L1627.4,1620.1 L1631.8,1627.3 L1636.1,1634.5 L1640.4,1641.7 L1644.7,1648.8 L1649.0,1656.0 L1653.3,1663.1 L1657.6,1670.2 L1661.9,1677.3 L1666.2,1684.4 L1670.5,1691.5 L1674.8,1698.5 L1679.1,1705.5 L1683.4,1712.5 L1687.7,1719.5 L1692.0,1726.5 L1696.3,1733.5 L1700.7,1740.4 L1705.0,1747.3 L1709.3,1754.2 L1713.6,1761.0 L1717.9,1767.9 L1722.2,1774.7 L1726.5,1781.5 L1730.8,1788.3 L1735.1,1795.1 L1739.4,1801.9 L1743.7,1808.7" fill="none" stroke="#0000ff" stroke-width="6.3" stroke-linejoin="round" stroke-dasharray="20.6 4" clip-path="url(#cm)"/>
<path d="M426.0,305.4 L430.3,305.3 L434.6,305.2 L438.9,305.2 L443.2,305.1 L447.5,305.1 L451.8,305.1 L456.1,305.0 L460.5,305.0 L464.8,305.0 L469.1,305.1 L473.4,305.1 L477.7,305.1 L482.0,305.2 L486.3,305.3 L490.6,305.4 L494.9,305.4 L499.2,305.6 L503.5,305.7 L507.8,305.8 L512.1,305.9 L516.4,306.1 L520.7,306.3 L525.0,306.4 L529.4,306.6 L533.7,306.8 L538.0,307.0 L542.3,307.2 L546.6,307.4 L550.9,307.7 L555.2,307.9 L559.5,308.2 L563.8,308.4 L568.1,308.7 L572.4,309.0 L576.7,309.3 L581.0,309.6 L585.3,309.9 L589.6,310.2 L593.9,310.6 L598.2,310.9 L602.6,311.3 L606.9,311.6 L611.2,312.0 L615.5,312.4 L619.8,312.8 L624.1,313.2 L628.4,313.6 L632.7,314.0 L637.0,314.4 L641.3,314.9 L645.6,315.4 L649.9,315.8 L654.2,316.3 L658.5,316.9 L662.8,317.4 L667.2,317.9 L671.5,318.5 L675.8,319.1 L680.1,319.7 L684.4,320.3 L688.7,321.0 L693.0,321.7 L697.3,322.4 L701.6,323.1 L705.9,323.8 L710.2,324.6 L714.5,325.4 L718.8,326.2 L723.1,327.0 L727.4,327.9 L731.7,328.7 L736.1,329.7 L740.4,330.6 L744.7,331.6 L749.0,332.6 L753.3,333.6 L757.6,334.7 L761.9,335.8 L766.2,336.9 L770.5,338.0 L774.8,339.2 L779.1,340.4 L783.4,341.7 L787.7,343.0 L792.0,344.3 L796.3,345.6 L800.6,347.0 L804.9,348.4 L809.3,349.8 L813.6,351.3 L817.9,352.8 L822.2,354.3 L826.5,355.9 L830.8,357.5 L835.1,359.1 L839.4,360.7 L843.7,362.4 L848.0,364.1 L852.3,365.9 L856.6,367.6 L860.9,369.4 L865.2,371.2 L869.5,373.1 L873.9,375.0 L878.2,376.9 L882.5,378.8 L886.8,380.8 L891.1,382.8 L895.4,384.8 L899.7,386.8 L904.0,388.9 L908.3,391.0 L912.6,393.2 L916.9,395.3 L921.2,397.5 L925.5,399.7 L929.8,401.9 L934.1,404.2 L938.4,406.5 L942.8,408.8 L947.1,411.1 L951.4,413.5 L955.7,415.9 L960.0,418.3 L964.3,420.8 L968.6,423.3 L972.9,425.8 L977.2,428.3 L981.5,430.9 L985.8,433.5 L990.1,436.1 L994.4,438.8 L998.7,441.5 L1003.0,444.3 L1007.3,447.0 L1011.7,449.9 L1016.0,452.7 L1020.3,455.6 L1024.6,458.6 L1028.9,461.5 L1033.2,464.5 L1037.5,467.6 L1041.8,470.7 L1046.1,473.8 L1050.4,477.0 L1054.7,480.3 L1059.0,483.5 L1063.3,486.9 L1067.6,490.2 L1071.9,493.7 L1076.2,497.1 L1080.5,500.6 L1084.9,504.2 L1089.2,507.8 L1093.5,511.5 L1097.8,515.2 L1102.1,519.0 L1106.4,522.8 L1110.7,526.7 L1115.0,530.6 L1119.3,534.6 L1123.6,538.6 L1127.9,542.7 L1132.2,546.9 L1136.5,551.1 L1140.8,555.3 L1145.1,559.6 L1149.5,564.0 L1153.8,568.4 L1158.1,572.8 L1162.4,577.4 L1166.7,581.9 L1171.0,586.5 L1175.3,591.1 L1179.6,595.8 L1183.9,600.6 L1188.2,605.3 L1192.5,610.2 L1196.8,615.0 L1201.1,619.9 L1205.4,624.9 L1209.7,629.9 L1214.0,634.9 L1218.3,640.0 L1222.7,645.1 L1227.0,650.2 L1231.3,655.4 L1235.6,660.7 L1239.9,665.9 L1244.2,671.2 L1248.5,676.5 L1252.8,681.9 L1257.1,687.3 L1261.4,692.7 L1265.7,698.2 L1270.0,703.7 L1274.3,709.2 L1278.6,714.8 L1282.9,720.4 L1287.2,726.0 L1291.6,731.6 L1295.9,737.3 L1300.2,743.0 L1304.5,748.7 L1308.8,754.5 L1313.1,760.2 L1317.4,766.0 L1321.7,771.8 L1326.0,777.7 L1330.3,783.5 L1334.6,789.4 L1338.9,795.3 L1343.2,801.2 L1347.5,807.2 L1351.8,813.1 L1356.2,819.1 L1360.5,825.1 L1364.8,831.1 L1369.1,837.1 L1373.4,843.1 L1377.7,849.2 L1382.0,855.2 L1386.3,861.3 L1390.6,867.4 L1394.9,873.5 L1399.2,879.6 L1403.5,885.7 L1407.8,891.8 L1412.1,897.9 L1416.4,904.1 L1420.7,910.2 L1425.1,916.4 L1429.4,922.5 L1433.7,928.7 L1438.0,934.9 L1442.3,941.1 L1446.6,947.3 L1450.9,953.5 L1455.2,959.6 L1459.5,965.8 L1463.8,972.0 L1468.1,978.3 L1472.4,984.5 L1476.7,990.7 L1481.0,996.9 L1485.3,1003.1 L1489.6,1009.3 L1494.0,1015.5 L1498.3,1021.8 L1502.6,1028.0 L1506.9,1034.2 L1511.2,1040.4 L1515.5,1046.7 L1519.8,1052.9 L1524.1,1059.2 L1528.4,1065.4 L1532.7,1071.6 L1537.0,1077.9 L1541.3,1084.1 L1545.6,1090.4 L1549.9,1096.6 L1554.2,1102.9 L1558.5,1109.2 L1562.9,1115.4 L1567.2,1121.7 L1571.5,1127.9 L1575.8,1134.2 L1580.1,1140.5 L1584.4,1146.7 L1588.7,1153.0 L1593.0,1159.3 L1597.3,1165.6 L1601.6,1171.8 L1605.9,1178.1 L1610.2,1184.4 L1614.5,1190.7 L1618.8,1196.9 L1623.1,1203.2 L1627.4,1209.5 L1631.8,1215.7 L1636.1,1222.0 L1640.4,1228.3 L1644.7,1234.5 L1649.0,1240.8 L1653.3,1247.1 L1657.6,1253.3 L1661.9,1259.6 L1666.2,1265.9 L1670.5,1272.1 L1674.8,1278.4 L1679.1,1284.7 L1683.4,1290.9 L1687.7,1297.2 L1692.0,1303.5 L1696.3,1309.7 L1700.7,1316.0 L1705.0,1322.3 L1709.3,1328.6 L1713.6,1334.9 L1717.9,1341.2 L1722.2,1347.5 L1726.5,1353.8 L1730.8,1360.1 L1735.1,1366.4 L1739.4,1372.7 L1743.7,1379.0 L1748.0,1385.3 L1752.3,1391.7 L1756.6,1398.0 L1760.9,1404.4 L1765.2,1410.7 L1769.5,1417.1 L1773.9,1423.5 L1778.2,1429.9 L1782.5,1436.3 L1786.8,1442.7 L1791.1,1449.1 L1795.4,1455.5 L1799.7,1462.0 L1804.0,1468.4 L1808.3,1474.9 L1812.6,1481.4 L1816.9,1487.9 L1821.2,1494.4 L1825.5,1500.9 L1829.8,1507.5 L1834.1,1514.0 L1838.5,1520.6 L1842.8,1527.2 L1847.1,1533.9 L1851.4,1540.6 L1855.7,1547.3 L1860.0,1554.0 L1864.3,1560.8 L1868.6,1567.6 L1872.9,1574.4 L1877.2,1581.3 L1881.5,1588.2 L1885.8,1595.1 L1890.1,1602.1 L1894.4,1609.1 L1898.7,1616.2 L1903.0,1623.3 L1907.4,1630.5 L1911.7,1637.7 L1916.0,1645.0 L1920.3,1652.3 L1924.6,1659.7 L1928.9,1667.1 L1933.2,1674.6 L1937.5,1682.1 L1941.8,1689.7 L1946.1,1697.4 L1950.4,1705.1 L1954.7,1712.9 L1959.0,1720.8 L1963.3,1728.7 L1967.6,1736.7 L1971.9,1744.7 L1976.2,1752.9 L1980.6,1761.1 L1984.9,1769.4 L1989.2,1777.7 L1993.5,1786.1 L1997.8,1794.5 L2002.1,1802.8 L2006.4,1811.2" fill="none" stroke="#008000" stroke-width="6.3" stroke-linejoin="round" stroke-dasharray="20.6 4" clip-path="url(#cm)"/>
<path d="M426.0,147.5 L430.3,148.0 L434.6,148.4 L438.9,148.8 L443.2,149.3 L447.5,149.7 L451.8,150.1 L456.1,150.5 L460.5,150.9 L464.8,151.3 L469.1,151.7 L473.4,152.1 L477.7,152.5 L482.0,152.9 L486.3,153.3 L490.6,153.7 L494.9,154.1 L499.2,154.4 L503.5,154.8 L507.8,155.2 L512.1,155.6 L516.4,156.0 L520.7,156.4 L525.0,156.8 L529.4,157.2 L533.7,157.6 L538.0,158.0 L542.3,158.4 L546.6,158.8 L550.9,159.3 L555.2,159.7 L559.5,160.1 L563.8,160.6 L568.1,161.0 L572.4,161.5 L576.7,162.0 L581.0,162.4 L585.3,162.9 L589.6,163.4 L593.9,163.9 L598.2,164.5 L602.6,165.0 L606.9,165.5 L611.2,166.1 L615.5,166.6 L619.8,167.2 L624.1,167.8 L628.4,168.4 L632.7,169.0 L637.0,169.7 L641.3,170.3 L645.6,171.0 L649.9,171.7 L654.2,172.4 L658.5,173.1 L662.8,173.8 L667.2,174.5 L671.5,175.3 L675.8,176.1 L680.1,176.8 L684.4,177.6 L688.7,178.5 L693.0,179.3 L697.3,180.2 L701.6,181.0 L705.9,181.9 L710.2,182.9 L714.5,183.8 L718.8,184.7 L723.1,185.7 L727.4,186.7 L731.7,187.7 L736.1,188.8 L740.4,189.8 L744.7,190.9 L749.0,192.0 L753.3,193.1 L757.6,194.2 L761.9,195.4 L766.2,196.6 L770.5,197.8 L774.8,199.0 L779.1,200.3 L783.4,201.6 L787.7,202.9 L792.0,204.2 L796.3,205.5 L800.6,206.9 L804.9,208.3 L809.3,209.7 L813.6,211.2 L817.9,212.6 L822.2,214.1 L826.5,215.6 L830.8,217.1 L835.1,218.7 L839.4,220.2 L843.7,221.8 L848.0,223.4 L852.3,225.1 L856.6,226.7 L860.9,228.4 L865.2,230.1 L869.5,231.8 L873.9,233.5 L878.2,235.3 L882.5,237.1 L886.8,238.9 L891.1,240.7 L895.4,242.5 L899.7,244.4 L904.0,246.3 L908.3,248.2 L912.6,250.2 L916.9,252.1 L921.2,254.1 L925.5,256.1 L929.8,258.1 L934.1,260.2 L938.4,262.3 L942.8,264.3 L947.1,266.5 L951.4,268.6 L955.7,270.7 L960.0,272.9 L964.3,275.1 L968.6,277.3 L972.9,279.5 L977.2,281.8 L981.5,284.1 L985.8,286.4 L990.1,288.7 L994.4,291.0 L998.7,293.4 L1003.0,295.8 L1007.3,298.3 L1011.7,300.7 L1016.0,303.2 L1020.3,305.8 L1024.6,308.3 L1028.9,310.9 L1033.2,313.6 L1037.5,316.2 L1041.8,318.9 L1046.1,321.7 L1050.4,324.4 L1054.7,327.3 L1059.0,330.1 L1063.3,333.0 L1067.6,336.0 L1071.9,338.9 L1076.2,342.0 L1080.5,345.0 L1084.9,348.2 L1089.2,351.3 L1093.5,354.5 L1097.8,357.8 L1102.1,361.1 L1106.4,364.5 L1110.7,367.9 L1115.0,371.3 L1119.3,374.9 L1123.6,378.4 L1127.9,382.0 L1132.2,385.7 L1136.5,389.4 L1140.8,393.2 L1145.1,397.0 L1149.5,400.8 L1153.8,404.7 L1158.1,408.7 L1162.4,412.7 L1166.7,416.7 L1171.0,420.8 L1175.3,424.9 L1179.6,429.1 L1183.9,433.3 L1188.2,437.5 L1192.5,441.8 L1196.8,446.1 L1201.1,450.4 L1205.4,454.9 L1209.7,459.4 L1214.0,464.1 L1218.3,468.8 L1222.7,473.7 L1227.0,478.6 L1231.3,483.5 L1235.6,488.6 L1239.9,493.6 L1244.2,498.7 L1248.5,503.8 L1252.8,509.0 L1257.1,514.1 L1261.4,519.2 L1265.7,524.4 L1270.0,529.7 L1274.3,535.0 L1278.6,540.3 L1282.9,545.7 L1287.2,551.1 L1291.6,556.6 L1295.9,562.0 L1300.2,567.5 L1304.5,572.9 L1308.8,578.4 L1313.1,583.8 L1317.4,589.3 L1321.7,594.7 L1326.0,600.1 L1330.3,605.6 L1334.6,611.1 L1338.9,616.6 L1343.2,622.1 L1347.5,627.7 L1351.8,633.3 L1356.2,638.9 L1360.5,644.5 L1364.8,650.1 L1369.1,655.8 L1373.4,661.5 L1377.7,667.3 L1382.0,673.0 L1386.3,678.9 L1390.6,684.8 L1394.9,690.8 L1399.2,696.9 L1403.5,703.0 L1407.8,709.1 L1412.1,715.3 L1416.4,721.5 L1420.7,727.6 L1425.1,733.8 L1429.4,739.9 L1433.7,746.0 L1438.0,752.1 L1442.3,758.1 L1446.6,764.1 L1450.9,770.2 L1455.2,776.4 L1459.5,782.7 L1463.8,789.0 L1468.1,795.4 L1472.4,801.8 L1476.7,808.3 L1481.0,814.8 L1485.3,821.4 L1489.6,828.0 L1494.0,834.6 L1498.3,841.2 L1502.6,847.9 L1506.9,854.6 L1511.2,861.2 L1515.5,867.9 L1519.8,874.6 L1524.1,881.3 L1528.4,887.9 L1532.7,894.5 L1537.0,901.1 L1541.3,907.7 L1545.6,914.2 L1549.9,920.6 L1554.2,927.0 L1558.5,933.4 L1562.9,939.6 L1567.2,945.9 L1571.5,952.1 L1575.8,958.3 L1580.1,964.4 L1584.4,970.5 L1588.7,976.6 L1593.0,982.7 L1597.3,988.8 L1601.6,994.8 L1605.9,1000.9 L1610.2,1007.0 L1614.5,1013.1 L1618.8,1019.2 L1623.1,1025.3 L1627.4,1031.4 L1631.8,1037.6 L1636.1,1043.8 L1640.4,1050.0 L1644.7,1056.2 L1649.0,1062.5 L1653.3,1068.7 L1657.6,1074.9 L1661.9,1081.2 L1666.2,1087.4 L1670.5,1093.6 L1674.8,1099.8 L1679.1,1105.9 L1683.4,1112.1 L1687.7,1118.3 L1692.0,1124.4 L1696.3,1130.6 L1700.7,1136.7 L1705.0,1142.9 L1709.3,1149.0 L1713.6,1155.1 L1717.9,1161.2 L1722.2,1167.3 L1726.5,1173.3 L1730.8,1179.4 L1735.1,1185.4 L1739.4,1191.5 L1743.7,1197.5 L1748.0,1203.5 L1752.3,1209.5 L1756.6,1215.5 L1760.9,1221.5 L1765.2,1227.5 L1769.5,1233.4 L1773.9,1239.4 L1778.2,1245.3 L1782.5,1251.3 L1786.8,1257.2 L1791.1,1263.1 L1795.4,1269.0 L1799.7,1274.9 L1804.0,1280.9 L1808.3,1286.8 L1812.6,1292.7 L1816.9,1298.6 L1821.2,1304.5 L1825.5,1310.4 L1829.8,1316.3 L1834.1,1322.2 L1838.5,1328.1 L1842.8,1334.0 L1847.1,1340.0 L1851.4,1345.9 L1855.7,1351.8 L1860.0,1357.8 L1864.3,1363.8 L1868.6,1369.7 L1872.9,1375.7 L1877.2,1381.7 L1881.5,1387.7 L1885.8,1393.7 L1890.1,1399.8 L1894.4,1405.8 L1898.7,1411.9 L1903.0,1418.0 L1907.4,1424.1 L1911.7,1430.2 L1916.0,1436.4 L1920.3,1442.5 L1924.6,1448.7 L1928.9,1454.8 L1933.2,1461.0 L1937.5,1467.2 L1941.8,1473.4 L1946.1,1479.6 L1950.4,1485.8 L1954.7,1492.0 L1959.0,1498.3 L1963.3,1504.5 L1967.6,1510.7 L1971.9,1517.0 L1976.2,1523.2 L1980.6,1529.5 L1984.9,1535.8 L1989.2,1542.0 L1993.5,1548.3 L1997.8,1554.6 L2002.1,1560.8 L2006.4,1567.1 L2010.7,1573.4 L2015.0,1579.7 L2019.3,1585.9 L2023.6,1592.2 L2027.9,1598.4 L2032.2,1604.7 L2036.5,1610.8 L2040.8,1616.9 L2045.1,1623.0 L2049.5,1629.1 L2053.8,1635.2 L2058.1,1641.3 L2062.4,1647.6 L2066.7,1653.9 L2071.0,1660.4 L2075.3,1667.0 L2079.6,1673.7 L2083.9,1680.4 L2088.2,1687.1 L2092.5,1694.0 L2096.8,1701.0 L2101.1,1708.1 L2105.4,1715.4 L2109.7,1722.7 L2114.1,1730.1 L2118.4,1737.6 L2122.7,1745.2 L2127.0,1752.9 L2131.3,1760.6 L2135.6,1768.5 L2139.9,1776.6 L2144.2,1784.7 L2148.5,1792.9" fill="none" stroke="#dc143c" stroke-width="6.3" stroke-linejoin="round" stroke-dasharray="20.6 4" clip-path="url(#cm)"/>
<rect x="1580.10" y="51.50" width="568.40" height="590.50" fill="#fff" stroke="#000" stroke-width="3.5"/>
<line x1="1619" y1="223.0" x2="1753" y2="223.0" stroke="#000" stroke-width="6" shape-rendering="crispEdges"/>
<line x1="1619" y1="311.0" x2="1753" y2="311.0" stroke="#000" stroke-width="6" stroke-dasharray="20.6 4" shape-rendering="crispEdges"/>
<line x1="1619" y1="400.0" x2="1753" y2="400.0" stroke="#0000ff" stroke-width="6" shape-rendering="crispEdges"/>
<line x1="1619" y1="489.0" x2="1753" y2="489.0" stroke="#008000" stroke-width="6" shape-rendering="crispEdges"/>
<line x1="1619" y1="577.0" x2="1753" y2="577.0" stroke="#dc143c" stroke-width="6" shape-rendering="crispEdges"/>
<rect x="567.60" y="987.00" width="602.80" height="689.50" fill="none" stroke="#000" stroke-width="3.5"/>
<g stroke="#000" stroke-width="3.5" fill="none">
<line x1="658.33" y1="1676.50" x2="658.33" y2="1657.50"/>
<line x1="658.33" y1="987.00" x2="658.33" y2="1006.00"/>
<line x1="711.40" y1="1676.50" x2="711.40" y2="1657.50"/>
<line x1="711.40" y1="987.00" x2="711.40" y2="1006.00"/>
<line x1="749.06" y1="1676.50" x2="749.06" y2="1657.50"/>
<line x1="749.06" y1="987.00" x2="749.06" y2="1006.00"/>
<line x1="778.27" y1="1676.50" x2="778.27" y2="1657.50"/>
<line x1="778.27" y1="987.00" x2="778.27" y2="1006.00"/>
<line x1="802.13" y1="1676.50" x2="802.13" y2="1657.50"/>
<line x1="802.13" y1="987.00" x2="802.13" y2="1006.00"/>
<line x1="822.31" y1="1676.50" x2="822.31" y2="1657.50"/>
<line x1="822.31" y1="987.00" x2="822.31" y2="1006.00"/>
<line x1="839.79" y1="1676.50" x2="839.79" y2="1657.50"/>
<line x1="839.79" y1="987.00" x2="839.79" y2="1006.00"/>
<line x1="855.21" y1="1676.50" x2="855.21" y2="1657.50"/>
<line x1="855.21" y1="987.00" x2="855.21" y2="1006.00"/>
<line x1="869.00" y1="1676.50" x2="869.00" y2="1639.50"/>
<line x1="869.00" y1="987.00" x2="869.00" y2="1024.00"/>
<line x1="959.73" y1="1676.50" x2="959.73" y2="1657.50"/>
<line x1="959.73" y1="987.00" x2="959.73" y2="1006.00"/>
<line x1="1012.80" y1="1676.50" x2="1012.80" y2="1657.50"/>
<line x1="1012.80" y1="987.00" x2="1012.80" y2="1006.00"/>
<line x1="1050.46" y1="1676.50" x2="1050.46" y2="1657.50"/>
<line x1="1050.46" y1="987.00" x2="1050.46" y2="1006.00"/>
<line x1="1079.67" y1="1676.50" x2="1079.67" y2="1657.50"/>
<line x1="1079.67" y1="987.00" x2="1079.67" y2="1006.00"/>
<line x1="1103.53" y1="1676.50" x2="1103.53" y2="1657.50"/>
<line x1="1103.53" y1="987.00" x2="1103.53" y2="1006.00"/>
<line x1="1123.71" y1="1676.50" x2="1123.71" y2="1657.50"/>
<line x1="1123.71" y1="987.00" x2="1123.71" y2="1006.00"/>
<line x1="1141.19" y1="1676.50" x2="1141.19" y2="1657.50"/>
<line x1="1141.19" y1="987.00" x2="1141.19" y2="1006.00"/>
<line x1="1156.61" y1="1676.50" x2="1156.61" y2="1657.50"/>
<line x1="1156.61" y1="987.00" x2="1156.61" y2="1006.00"/>
<line x1="567.60" y1="1619.04" x2="586.60" y2="1619.04"/>
<line x1="1170.40" y1="1619.04" x2="1151.40" y2="1619.04"/>
<line x1="567.60" y1="1561.58" x2="604.60" y2="1561.58"/>
<line x1="1170.40" y1="1561.58" x2="1133.40" y2="1561.58"/>
<line x1="567.60" y1="1504.12" x2="586.60" y2="1504.12"/>
<line x1="1170.40" y1="1504.12" x2="1151.40" y2="1504.12"/>
<line x1="567.60" y1="1446.67" x2="604.60" y2="1446.67"/>
<line x1="1170.40" y1="1446.67" x2="1133.40" y2="1446.67"/>
<line x1="567.60" y1="1389.21" x2="586.60" y2="1389.21"/>
<line x1="1170.40" y1="1389.21" x2="1151.40" y2="1389.21"/>
<line x1="567.60" y1="1331.75" x2="604.60" y2="1331.75"/>
<line x1="1170.40" y1="1331.75" x2="1133.40" y2="1331.75"/>
<line x1="567.60" y1="1274.29" x2="586.60" y2="1274.29"/>
<line x1="1170.40" y1="1274.29" x2="1151.40" y2="1274.29"/>
<line x1="567.60" y1="1216.83" x2="604.60" y2="1216.83"/>
<line x1="1170.40" y1="1216.83" x2="1133.40" y2="1216.83"/>
<line x1="567.60" y1="1159.38" x2="586.60" y2="1159.38"/>
<line x1="1170.40" y1="1159.38" x2="1151.40" y2="1159.38"/>
<line x1="567.60" y1="1101.92" x2="604.60" y2="1101.92"/>
<line x1="1170.40" y1="1101.92" x2="1133.40" y2="1101.92"/>
<line x1="567.60" y1="1044.46" x2="586.60" y2="1044.46"/>
<line x1="1170.40" y1="1044.46" x2="1151.40" y2="1044.46"/>
</g>
<path d="M567.6,1464.2 L569.1,1464.8 L570.6,1465.5 L572.1,1466.2 L573.6,1467.0 L575.1,1467.7 L576.6,1468.5 L578.1,1469.4 L579.7,1470.3 L581.2,1471.2 L582.7,1472.1 L584.2,1473.0 L585.7,1474.0 L587.2,1475.0 L588.7,1476.0 L590.2,1477.0 L591.7,1478.1 L593.2,1479.1 L594.7,1480.2 L596.2,1481.3 L597.7,1482.4 L599.2,1483.5 L600.8,1484.7 L602.3,1485.8 L603.8,1486.9 L605.3,1488.1 L606.8,1489.2 L608.3,1490.4 L609.8,1491.5 L611.3,1492.7 L612.8,1493.9 L614.3,1495.0 L615.8,1496.2 L617.3,1497.4 L618.8,1498.5 L620.3,1499.7 L621.9,1500.8 L623.4,1502.0 L624.9,1503.1 L626.4,1504.3 L627.9,1505.4 L629.4,1506.5 L630.9,1507.7 L632.4,1508.8 L633.9,1509.9 L635.4,1511.0 L636.9,1512.1 L638.4,1513.2 L639.9,1514.3 L641.4,1515.4 L643.0,1516.5 L644.5,1517.6 L646.0,1518.8 L647.5,1519.9 L649.0,1521.0 L650.5,1522.1 L652.0,1523.2 L653.5,1524.3 L655.0,1525.4 L656.5,1526.5 L658.0,1527.7 L659.5,1528.8 L661.0,1529.9 L662.5,1531.1 L664.0,1532.2 L665.6,1533.4 L667.1,1534.5 L668.6,1535.7 L670.1,1536.8 L671.6,1538.0 L673.1,1539.2 L674.6,1540.4 L676.1,1541.6 L677.6,1542.8 L679.1,1544.0 L680.6,1545.2 L682.1,1546.5 L683.6,1547.7 L685.1,1549.0 L686.7,1550.2 L688.2,1551.5 L689.7,1552.7 L691.2,1554.0 L692.7,1555.3 L694.2,1556.6 L695.7,1557.9 L697.2,1559.2 L698.7,1560.5 L700.2,1561.8 L701.7,1563.1 L703.2,1564.4 L704.7,1565.7 L706.2,1567.0 L707.8,1568.3 L709.3,1569.6 L710.8,1570.9 L712.3,1572.2 L713.8,1573.5 L715.3,1574.8 L716.8,1576.1 L718.3,1577.4 L719.8,1578.7 L721.3,1580.0 L722.8,1581.2 L724.3,1582.5 L725.8,1583.8 L727.3,1585.0 L728.8,1586.3 L730.4,1587.5 L731.9,1588.8 L733.4,1590.0 L734.9,1591.2 L736.4,1592.5 L737.9,1593.7 L739.4,1594.9 L740.9,1596.1 L742.4,1597.3 L743.9,1598.5 L745.4,1599.7 L746.9,1600.8 L748.4,1602.0 L749.9,1603.1 L751.5,1604.3 L753.0,1605.4 L754.5,1606.5 L756.0,1607.7 L757.5,1608.8 L759.0,1609.9 L760.5,1611.0 L762.0,1612.1 L763.5,1613.1 L765.0,1614.2 L766.5,1615.3 L768.0,1616.3 L769.5,1617.4 L771.0,1618.4 L772.6,1619.4 L774.1,1620.5 L775.6,1621.5 L777.1,1622.5 L778.6,1623.5 L780.1,1624.5 L781.6,1625.5 L783.1,1626.4 L784.6,1627.4 L786.1,1628.4 L787.6,1629.3 L789.1,1630.3 L790.6,1631.2 L792.1,1632.1 L793.7,1633.0 L795.2,1634.0 L796.7,1634.9 L798.2,1635.8 L799.7,1636.6 L801.2,1637.5 L802.7,1638.4 L804.2,1639.3 L805.7,1640.1 L807.2,1641.0 L808.7,1641.8 L810.2,1642.6 L811.7,1643.4 L813.2,1644.3 L814.7,1645.1 L816.3,1645.8 L817.8,1646.6 L819.3,1647.4 L820.8,1648.1 L822.3,1648.9 L823.8,1649.6 L825.3,1650.3 L826.8,1651.0 L828.3,1651.7 L829.8,1652.4 L831.3,1653.1 L832.8,1653.8 L834.3,1654.4 L835.8,1655.0 L837.4,1655.7 L838.9,1656.3 L840.4,1656.9 L841.9,1657.5 L843.4,1658.0 L844.9,1658.6 L846.4,1659.2 L847.9,1659.7 L849.4,1660.2 L850.9,1660.7 L852.4,1661.3 L853.9,1661.8 L855.4,1662.2 L856.9,1662.7 L858.5,1663.2 L860.0,1663.6 L861.5,1664.1 L863.0,1664.5 L864.5,1665.0 L866.0,1665.4 L867.5,1665.8 L869.0,1666.2 L870.5,1666.5 L872.0,1666.9 L873.5,1667.3 L875.0,1667.6 L876.5,1668.0 L878.0,1668.3 L879.5,1668.6 L881.1,1668.9 L882.6,1669.2 L884.1,1669.5 L885.6,1669.8 L887.1,1670.1 L888.6,1670.3 L890.1,1670.6 L891.6,1670.8 L893.1,1671.1 L894.6,1671.3 L896.1,1671.5 L897.6,1671.7 L899.1,1671.9 L900.6,1672.1 L902.2,1672.3 L903.7,1672.5 L905.2,1672.6 L906.7,1672.8 L908.2,1673.0 L909.7,1673.1 L911.2,1673.2 L912.7,1673.4 L914.2,1673.5 L915.7,1673.6 L917.2,1673.8 L918.7,1673.9 L920.2,1674.0 L921.7,1674.1 L923.3,1674.2 L924.8,1674.3 L926.3,1674.4 L927.8,1674.5 L929.3,1674.6 L930.8,1674.6 L932.3,1674.7 L933.8,1674.8 L935.3,1674.9 L936.8,1674.9 L938.3,1675.0 L939.8,1675.0 L941.3,1675.1 L942.8,1675.2 L944.4,1675.2 L945.9,1675.3 L947.4,1675.3 L948.9,1675.4 L950.4,1675.4 L951.9,1675.5 L953.4,1675.5 L954.9,1675.5 L956.4,1675.6 L957.9,1675.6 L959.4,1675.6 L960.9,1675.7 L962.4,1675.7 L963.9,1675.7 L965.4,1675.8 L967.0,1675.8 L968.5,1675.8 L970.0,1675.8 L971.5,1675.9 L973.0,1675.9 L974.5,1675.9 L976.0,1675.9 L977.5,1676.0 L979.0,1676.0 L980.5,1676.0 L982.0,1676.0 L983.5,1676.0 L985.0,1676.1 L986.5,1676.1 L988.1,1676.1 L989.6,1676.1 L991.1,1676.1 L992.6,1676.1 L994.1,1676.1 L995.6,1676.2 L997.1,1676.2 L998.6,1676.2 L1000.1,1676.2 L1001.6,1676.2 L1003.1,1676.2 L1004.6,1676.2 L1006.1,1676.2 L1007.6,1676.2 L1009.2,1676.3 L1010.7,1676.3 L1012.2,1676.3 L1013.7,1676.3 L1015.2,1676.3 L1016.7,1676.3 L1018.2,1676.3 L1019.7,1676.3 L1021.2,1676.3 L1022.7,1676.3 L1024.2,1676.3 L1025.7,1676.3 L1027.2,1676.3 L1028.7,1676.4 L1030.2,1676.4 L1031.8,1676.4 L1033.3,1676.4 L1034.8,1676.4 L1036.3,1676.4 L1037.8,1676.4 L1039.3,1676.4 L1040.8,1676.4 L1042.3,1676.4 L1043.8,1676.4 L1045.3,1676.4 L1046.8,1676.4 L1048.3,1676.4 L1049.8,1676.4 L1051.3,1676.4 L1052.9,1676.4 L1054.4,1676.4 L1055.9,1676.4 L1057.4,1676.4 L1058.9,1676.4 L1060.4,1676.4 L1061.9,1676.4 L1063.4,1676.4 L1064.9,1676.4 L1066.4,1676.4 L1067.9,1676.4 L1069.4,1676.4 L1070.9,1676.5 L1072.4,1676.5 L1074.0,1676.5 L1075.5,1676.5 L1077.0,1676.5 L1078.5,1676.5 L1080.0,1676.5 L1081.5,1676.5 L1083.0,1676.5 L1084.5,1676.5 L1086.0,1676.5 L1087.5,1676.5 L1089.0,1676.5 L1090.5,1676.5 L1092.0,1676.5 L1093.5,1676.5 L1095.1,1676.5 L1096.6,1676.5 L1098.1,1676.5 L1099.6,1676.5 L1101.1,1676.5 L1102.6,1676.5 L1104.1,1676.5 L1105.6,1676.5 L1107.1,1676.5 L1108.6,1676.5 L1110.1,1676.5 L1111.6,1676.5 L1113.1,1676.5 L1114.6,1676.5 L1116.1,1676.5 L1117.7,1676.5 L1119.2,1676.5 L1120.7,1676.5 L1122.2,1676.5 L1123.7,1676.5 L1125.2,1676.5 L1126.7,1676.5 L1128.2,1676.5 L1129.7,1676.5 L1131.2,1676.5 L1132.7,1676.5 L1134.2,1676.5 L1135.7,1676.5 L1137.2,1676.5 L1138.8,1676.5 L1140.3,1676.5 L1141.8,1676.5 L1143.3,1676.5 L1144.8,1676.5 L1146.3,1676.5 L1147.8,1676.5 L1149.3,1676.5 L1150.8,1676.5 L1152.3,1676.5 L1153.8,1676.5 L1155.3,1676.5 L1156.8,1676.5 L1158.3,1676.5 L1159.9,1676.5 L1161.4,1676.5 L1162.9,1676.5 L1164.4,1676.5 L1165.9,1676.5 L1167.4,1676.5 L1168.9,1676.5 L1170.4,1676.5" fill="none" stroke="#0000ff" stroke-width="6.3" stroke-linejoin="round" clip-path="url(#ci)"/>
<path d="M567.6,1357.2 L569.1,1357.0 L570.6,1357.0 L572.1,1356.9 L573.6,1356.8 L575.1,1356.8 L576.6,1356.7 L578.1,1356.7 L579.7,1356.7 L581.2,1356.7 L582.7,1356.7 L584.2,1356.7 L585.7,1356.8 L587.2,1356.8 L588.7,1356.9 L590.2,1357.0 L591.7,1357.1 L593.2,1357.2 L594.7,1357.4 L596.2,1357.5 L597.7,1357.7 L599.2,1357.9 L600.8,1358.1 L602.3,1358.4 L603.8,1358.6 L605.3,1358.9 L606.8,1359.2 L608.3,1359.5 L609.8,1359.8 L611.3,1360.2 L612.8,1360.5 L614.3,1360.9 L615.8,1361.3 L617.3,1361.8 L618.8,1362.2 L620.3,1362.7 L621.9,1363.2 L623.4,1363.7 L624.9,1364.3 L626.4,1364.9 L627.9,1365.5 L629.4,1366.1 L630.9,1366.7 L632.4,1367.4 L633.9,1368.1 L635.4,1368.8 L636.9,1369.6 L638.4,1370.3 L639.9,1371.1 L641.4,1372.0 L643.0,1372.8 L644.5,1373.7 L646.0,1374.6 L647.5,1375.5 L649.0,1376.5 L650.5,1377.4 L652.0,1378.5 L653.5,1379.5 L655.0,1380.6 L656.5,1381.6 L658.0,1382.8 L659.5,1383.9 L661.0,1385.1 L662.5,1386.2 L664.0,1387.5 L665.6,1388.7 L667.1,1390.0 L668.6,1391.3 L670.1,1392.6 L671.6,1393.9 L673.1,1395.3 L674.6,1396.7 L676.1,1398.1 L677.6,1399.5 L679.1,1401.0 L680.6,1402.5 L682.1,1404.0 L683.6,1405.6 L685.1,1407.1 L686.7,1408.7 L688.2,1410.3 L689.7,1412.0 L691.2,1413.6 L692.7,1415.3 L694.2,1417.0 L695.7,1418.8 L697.2,1420.5 L698.7,1422.3 L700.2,1424.1 L701.7,1426.0 L703.2,1427.8 L704.7,1429.7 L706.2,1431.6 L707.8,1433.5 L709.3,1435.5 L710.8,1437.4 L712.3,1439.4 L713.8,1441.4 L715.3,1443.5 L716.8,1445.5 L718.3,1447.6 L719.8,1449.7 L721.3,1451.8 L722.8,1453.9 L724.3,1456.0 L725.8,1458.2 L727.3,1460.3 L728.8,1462.5 L730.4,1464.7 L731.9,1466.9 L733.4,1469.1 L734.9,1471.4 L736.4,1473.6 L737.9,1475.8 L739.4,1478.1 L740.9,1480.4 L742.4,1482.6 L743.9,1484.9 L745.4,1487.2 L746.9,1489.5 L748.4,1491.8 L749.9,1494.1 L751.5,1496.4 L753.0,1498.7 L754.5,1501.1 L756.0,1503.4 L757.5,1505.7 L759.0,1508.0 L760.5,1510.3 L762.0,1512.6 L763.5,1514.9 L765.0,1517.2 L766.5,1519.5 L768.0,1521.7 L769.5,1524.0 L771.0,1526.2 L772.6,1528.5 L774.1,1530.7 L775.6,1532.9 L777.1,1535.1 L778.6,1537.3 L780.1,1539.4 L781.6,1541.6 L783.1,1543.7 L784.6,1545.8 L786.1,1547.9 L787.6,1550.0 L789.1,1552.1 L790.6,1554.1 L792.1,1556.1 L793.7,1558.1 L795.2,1560.1 L796.7,1562.1 L798.2,1564.0 L799.7,1565.9 L801.2,1567.8 L802.7,1569.7 L804.2,1571.6 L805.7,1573.4 L807.2,1575.2 L808.7,1577.0 L810.2,1578.7 L811.7,1580.5 L813.2,1582.2 L814.7,1583.9 L816.3,1585.6 L817.8,1587.2 L819.3,1588.8 L820.8,1590.5 L822.3,1592.0 L823.8,1593.6 L825.3,1595.2 L826.8,1596.7 L828.3,1598.2 L829.8,1599.7 L831.3,1601.2 L832.8,1602.6 L834.3,1604.1 L835.8,1605.5 L837.4,1606.9 L838.9,1608.3 L840.4,1609.6 L841.9,1611.0 L843.4,1612.3 L844.9,1613.6 L846.4,1614.9 L847.9,1616.2 L849.4,1617.5 L850.9,1618.7 L852.4,1620.0 L853.9,1621.2 L855.4,1622.4 L856.9,1623.6 L858.5,1624.8 L860.0,1625.9 L861.5,1627.0 L863.0,1628.2 L864.5,1629.3 L866.0,1630.4 L867.5,1631.5 L869.0,1632.5 L870.5,1633.6 L872.0,1634.6 L873.5,1635.6 L875.0,1636.6 L876.5,1637.6 L878.0,1638.6 L879.5,1639.5 L881.1,1640.5 L882.6,1641.4 L884.1,1642.3 L885.6,1643.2 L887.1,1644.1 L888.6,1644.9 L890.1,1645.8 L891.6,1646.6 L893.1,1647.5 L894.6,1648.3 L896.1,1649.0 L897.6,1649.8 L899.1,1650.6 L900.6,1651.3 L902.2,1652.1 L903.7,1652.8 L905.2,1653.5 L906.7,1654.2 L908.2,1654.8 L909.7,1655.5 L911.2,1656.1 L912.7,1656.7 L914.2,1657.4 L915.7,1658.0 L917.2,1658.5 L918.7,1659.1 L920.2,1659.7 L921.7,1660.2 L923.3,1660.7 L924.8,1661.3 L926.3,1661.8 L927.8,1662.3 L929.3,1662.7 L930.8,1663.2 L932.3,1663.7 L933.8,1664.1 L935.3,1664.5 L936.8,1664.9 L938.3,1665.3 L939.8,1665.7 L941.3,1666.1 L942.8,1666.5 L944.4,1666.8 L945.9,1667.2 L947.4,1667.5 L948.9,1667.9 L950.4,1668.2 L951.9,1668.5 L953.4,1668.8 L954.9,1669.1 L956.4,1669.3 L957.9,1669.6 L959.4,1669.9 L960.9,1670.1 L962.4,1670.3 L963.9,1670.6 L965.4,1670.8 L967.0,1671.0 L968.5,1671.2 L970.0,1671.4 L971.5,1671.6 L973.0,1671.8 L974.5,1672.0 L976.0,1672.1 L977.5,1672.3 L979.0,1672.5 L980.5,1672.6 L982.0,1672.8 L983.5,1672.9 L985.0,1673.0 L986.5,1673.2 L988.1,1673.3 L989.6,1673.4 L991.1,1673.5 L992.6,1673.6 L994.1,1673.7 L995.6,1673.8 L997.1,1673.9 L998.6,1674.0 L1000.1,1674.1 L1001.6,1674.2 L1003.1,1674.3 L1004.6,1674.4 L1006.1,1674.5 L1007.6,1674.5 L1009.2,1674.6 L1010.7,1674.7 L1012.2,1674.7 L1013.7,1674.8 L1015.2,1674.9 L1016.7,1674.9 L1018.2,1675.0 L1019.7,1675.0 L1021.2,1675.1 L1022.7,1675.1 L1024.2,1675.2 L1025.7,1675.2 L1027.2,1675.3 L1028.7,1675.3 L1030.2,1675.4 L1031.8,1675.4 L1033.3,1675.4 L1034.8,1675.5 L1036.3,1675.5 L1037.8,1675.6 L1039.3,1675.6 L1040.8,1675.6 L1042.3,1675.7 L1043.8,1675.7 L1045.3,1675.7 L1046.8,1675.7 L1048.3,1675.8 L1049.8,1675.8 L1051.3,1675.8 L1052.9,1675.8 L1054.4,1675.9 L1055.9,1675.9 L1057.4,1675.9 L1058.9,1675.9 L1060.4,1676.0 L1061.9,1676.0 L1063.4,1676.0 L1064.9,1676.0 L1066.4,1676.0 L1067.9,1676.1 L1069.4,1676.1 L1070.9,1676.1 L1072.4,1676.1 L1074.0,1676.1 L1075.5,1676.1 L1077.0,1676.1 L1078.5,1676.2 L1080.0,1676.2 L1081.5,1676.2 L1083.0,1676.2 L1084.5,1676.2 L1086.0,1676.2 L1087.5,1676.2 L1089.0,1676.2 L1090.5,1676.2 L1092.0,1676.3 L1093.5,1676.3 L1095.1,1676.3 L1096.6,1676.3 L1098.1,1676.3 L1099.6,1676.3 L1101.1,1676.3 L1102.6,1676.3 L1104.1,1676.3 L1105.6,1676.3 L1107.1,1676.3 L1108.6,1676.3 L1110.1,1676.4 L1111.6,1676.4 L1113.1,1676.4 L1114.6,1676.4 L1116.1,1676.4 L1117.7,1676.4 L1119.2,1676.4 L1120.7,1676.4 L1122.2,1676.4 L1123.7,1676.4 L1125.2,1676.4 L1126.7,1676.4 L1128.2,1676.4 L1129.7,1676.4 L1131.2,1676.4 L1132.7,1676.4 L1134.2,1676.4 L1135.7,1676.4 L1137.2,1676.4 L1138.8,1676.4 L1140.3,1676.4 L1141.8,1676.4 L1143.3,1676.4 L1144.8,1676.4 L1146.3,1676.5 L1147.8,1676.5 L1149.3,1676.5 L1150.8,1676.5 L1152.3,1676.5 L1153.8,1676.5 L1155.3,1676.5 L1156.8,1676.5 L1158.3,1676.5 L1159.9,1676.5 L1161.4,1676.5 L1162.9,1676.5 L1164.4,1676.5 L1165.9,1676.5 L1167.4,1676.5 L1168.9,1676.5 L1170.4,1676.5" fill="none" stroke="#008000" stroke-width="6.3" stroke-linejoin="round" clip-path="url(#ci)"/>
<path d="M567.6,988.4 L569.1,990.0 L570.6,991.7 L572.1,993.2 L573.6,994.8 L575.1,996.3 L576.6,997.8 L578.1,999.3 L579.7,1000.8 L581.2,1002.2 L582.7,1003.7 L584.2,1005.1 L585.7,1006.5 L587.2,1007.9 L588.7,1009.3 L590.2,1010.7 L591.7,1012.1 L593.2,1013.5 L594.7,1014.9 L596.2,1016.3 L597.7,1017.6 L599.2,1019.0 L600.8,1020.4 L602.3,1021.8 L603.8,1023.3 L605.3,1024.7 L606.8,1026.1 L608.3,1027.6 L609.8,1029.0 L611.3,1030.5 L612.8,1032.0 L614.3,1033.5 L615.8,1035.0 L617.3,1036.5 L618.8,1038.1 L620.3,1039.7 L621.9,1041.3 L623.4,1042.9 L624.9,1044.6 L626.4,1046.3 L627.9,1048.0 L629.4,1049.7 L630.9,1051.5 L632.4,1053.3 L633.9,1055.2 L635.4,1057.1 L636.9,1059.0 L638.4,1061.0 L639.9,1063.0 L641.4,1065.0 L643.0,1067.1 L644.5,1069.2 L646.0,1071.3 L647.5,1073.6 L649.0,1075.8 L650.5,1078.1 L652.0,1080.4 L653.5,1082.8 L655.0,1085.3 L656.5,1087.7 L658.0,1090.3 L659.5,1092.8 L661.0,1095.5 L662.5,1098.1 L664.0,1100.9 L665.6,1103.6 L667.1,1106.4 L668.6,1109.3 L670.1,1112.2 L671.6,1115.2 L673.1,1118.2 L674.6,1121.2 L676.1,1124.3 L677.6,1127.5 L679.1,1130.7 L680.6,1133.9 L682.1,1137.2 L683.6,1140.5 L685.1,1143.9 L686.7,1147.3 L688.2,1150.7 L689.7,1154.2 L691.2,1157.8 L692.7,1161.4 L694.2,1165.0 L695.7,1168.6 L697.2,1172.3 L698.7,1176.0 L700.2,1179.8 L701.7,1183.6 L703.2,1187.4 L704.7,1191.2 L706.2,1195.1 L707.8,1199.0 L709.3,1202.9 L710.8,1206.8 L712.3,1210.8 L713.8,1214.7 L715.3,1218.7 L716.8,1222.7 L718.3,1226.7 L719.8,1230.7 L721.3,1234.8 L722.8,1238.8 L724.3,1242.8 L725.8,1246.9 L727.3,1250.9 L728.8,1255.0 L730.4,1259.1 L731.9,1263.1 L733.4,1267.2 L734.9,1271.3 L736.4,1275.3 L737.9,1279.4 L739.4,1283.4 L740.9,1287.5 L742.4,1291.5 L743.9,1295.6 L745.4,1299.6 L746.9,1303.6 L748.4,1307.7 L749.9,1311.7 L751.5,1315.7 L753.0,1319.7 L754.5,1323.7 L756.0,1327.6 L757.5,1331.6 L759.0,1335.6 L760.5,1339.6 L762.0,1343.5 L763.5,1347.5 L765.0,1351.5 L766.5,1355.5 L768.0,1359.4 L769.5,1363.4 L771.0,1367.4 L772.6,1371.3 L774.1,1375.3 L775.6,1379.3 L777.1,1383.3 L778.6,1387.2 L780.1,1391.2 L781.6,1395.2 L783.1,1399.1 L784.6,1403.1 L786.1,1407.1 L787.6,1411.1 L789.1,1415.0 L790.6,1419.0 L792.1,1423.0 L793.7,1426.9 L795.2,1430.9 L796.7,1434.8 L798.2,1438.8 L799.7,1442.7 L801.2,1446.6 L802.7,1450.6 L804.2,1454.5 L805.7,1458.4 L807.2,1462.3 L808.7,1466.2 L810.2,1470.0 L811.7,1473.9 L813.2,1477.7 L814.7,1481.5 L816.3,1485.3 L817.8,1489.1 L819.3,1492.8 L820.8,1496.5 L822.3,1500.1 L823.8,1503.7 L825.3,1507.3 L826.8,1510.8 L828.3,1514.3 L829.8,1517.7 L831.3,1521.1 L832.8,1524.5 L834.3,1527.8 L835.8,1531.0 L837.4,1534.2 L838.9,1537.3 L840.4,1540.4 L841.9,1543.4 L843.4,1546.4 L844.9,1549.3 L846.4,1552.2 L847.9,1555.0 L849.4,1557.7 L850.9,1560.4 L852.4,1563.0 L853.9,1565.6 L855.4,1568.1 L856.9,1570.6 L858.5,1573.0 L860.0,1575.4 L861.5,1577.7 L863.0,1579.9 L864.5,1582.1 L866.0,1584.2 L867.5,1586.3 L869.0,1588.4 L870.5,1590.3 L872.0,1592.3 L873.5,1594.2 L875.0,1596.0 L876.5,1597.8 L878.0,1599.6 L879.5,1601.3 L881.1,1603.0 L882.6,1604.6 L884.1,1606.2 L885.6,1607.8 L887.1,1609.4 L888.6,1610.9 L890.1,1612.4 L891.6,1613.9 L893.1,1615.3 L894.6,1616.7 L896.1,1618.1 L897.6,1619.5 L899.1,1620.8 L900.6,1622.1 L902.2,1623.5 L903.7,1624.7 L905.2,1626.0 L906.7,1627.2 L908.2,1628.5 L909.7,1629.7 L911.2,1630.9 L912.7,1632.0 L914.2,1633.2 L915.7,1634.3 L917.2,1635.4 L918.7,1636.5 L920.2,1637.6 L921.7,1638.7 L923.3,1639.7 L924.8,1640.8 L926.3,1641.8 L927.8,1642.8 L929.3,1643.8 L930.8,1644.7 L932.3,1645.7 L933.8,1646.6 L935.3,1647.5 L936.8,1648.4 L938.3,1649.3 L939.8,1650.2 L941.3,1651.0 L942.8,1651.8 L944.4,1652.6 L945.9,1653.4 L947.4,1654.2 L948.9,1654.9 L950.4,1655.6 L951.9,1656.3 L953.4,1657.0 L954.9,1657.7 L956.4,1658.3 L957.9,1659.0 L959.4,1659.6 L960.9,1660.2 L962.4,1660.7 L963.9,1661.3 L965.4,1661.8 L967.0,1662.3 L968.5,1662.8 L970.0,1663.3 L971.5,1663.8 L973.0,1664.2 L974.5,1664.7 L976.0,1665.1 L977.5,1665.5 L979.0,1665.9 L980.5,1666.3 L982.0,1666.6 L983.5,1667.0 L985.0,1667.3 L986.5,1667.7 L988.1,1668.0 L989.6,1668.3 L991.1,1668.6 L992.6,1668.9 L994.1,1669.1 L995.6,1669.4 L997.1,1669.6 L998.6,1669.9 L1000.1,1670.1 L1001.6,1670.3 L1003.1,1670.5 L1004.6,1670.8 L1006.1,1671.0 L1007.6,1671.1 L1009.2,1671.3 L1010.7,1671.5 L1012.2,1671.7 L1013.7,1671.9 L1015.2,1672.0 L1016.7,1672.2 L1018.2,1672.3 L1019.7,1672.5 L1021.2,1672.6 L1022.7,1672.7 L1024.2,1672.9 L1025.7,1673.0 L1027.2,1673.1 L1028.7,1673.2 L1030.2,1673.3 L1031.8,1673.4 L1033.3,1673.5 L1034.8,1673.6 L1036.3,1673.7 L1037.8,1673.8 L1039.3,1673.9 L1040.8,1674.0 L1042.3,1674.1 L1043.8,1674.2 L1045.3,1674.3 L1046.8,1674.3 L1048.3,1674.4 L1049.8,1674.5 L1051.3,1674.6 L1052.9,1674.6 L1054.4,1674.7 L1055.9,1674.7 L1057.4,1674.8 L1058.9,1674.9 L1060.4,1674.9 L1061.9,1675.0 L1063.4,1675.0 L1064.9,1675.1 L1066.4,1675.1 L1067.9,1675.2 L1069.4,1675.2 L1070.9,1675.3 L1072.4,1675.3 L1074.0,1675.3 L1075.5,1675.4 L1077.0,1675.4 L1078.5,1675.5 L1080.0,1675.5 L1081.5,1675.5 L1083.0,1675.6 L1084.5,1675.6 L1086.0,1675.6 L1087.5,1675.6 L1089.0,1675.7 L1090.5,1675.7 L1092.0,1675.7 L1093.5,1675.8 L1095.1,1675.8 L1096.6,1675.8 L1098.1,1675.8 L1099.6,1675.9 L1101.1,1675.9 L1102.6,1675.9 L1104.1,1675.9 L1105.6,1675.9 L1107.1,1676.0 L1108.6,1676.0 L1110.1,1676.0 L1111.6,1676.0 L1113.1,1676.0 L1114.6,1676.1 L1116.1,1676.1 L1117.7,1676.1 L1119.2,1676.1 L1120.7,1676.1 L1122.2,1676.1 L1123.7,1676.1 L1125.2,1676.2 L1126.7,1676.2 L1128.2,1676.2 L1129.7,1676.2 L1131.2,1676.2 L1132.7,1676.2 L1134.2,1676.2 L1135.7,1676.2 L1137.2,1676.2 L1138.8,1676.3 L1140.3,1676.3 L1141.8,1676.3 L1143.3,1676.3 L1144.8,1676.3 L1146.3,1676.3 L1147.8,1676.3 L1149.3,1676.3 L1150.8,1676.3 L1152.3,1676.3 L1153.8,1676.3 L1155.3,1676.3 L1156.8,1676.3 L1158.3,1676.4 L1159.9,1676.4 L1161.4,1676.4 L1162.9,1676.4 L1164.4,1676.4 L1165.9,1676.4 L1167.4,1676.4 L1168.9,1676.4 L1170.4,1676.4" fill="none" stroke="#dc143c" stroke-width="6.3" stroke-linejoin="round" clip-path="url(#ci)"/>
<path d="M567.6,1515.7 L569.1,1516.4 L570.6,1517.1 L572.1,1517.8 L573.6,1518.5 L575.1,1519.2 L576.6,1519.9 L578.1,1520.7 L579.7,1521.4 L581.2,1522.1 L582.7,1522.9 L584.2,1523.6 L585.7,1524.4 L587.2,1525.1 L588.7,1525.9 L590.2,1526.7 L591.7,1527.5 L593.2,1528.3 L594.7,1529.1 L596.2,1529.9 L597.7,1530.7 L599.2,1531.5 L600.8,1532.3 L602.3,1533.1 L603.8,1533.9 L605.3,1534.8 L606.8,1535.6 L608.3,1536.4 L609.8,1537.3 L611.3,1538.1 L612.8,1539.0 L614.3,1539.8 L615.8,1540.7 L617.3,1541.6 L618.8,1542.4 L620.3,1543.3 L621.9,1544.2 L623.4,1545.0 L624.9,1545.9 L626.4,1546.8 L627.9,1547.7 L629.4,1548.6 L630.9,1549.5 L632.4,1550.4 L633.9,1551.3 L635.4,1552.2 L636.9,1553.1 L638.4,1554.0 L639.9,1554.9 L641.4,1555.8 L643.0,1556.7 L644.5,1557.7 L646.0,1558.6 L647.5,1559.5 L649.0,1560.5 L650.5,1561.4 L652.0,1562.4 L653.5,1563.4 L655.0,1564.3 L656.5,1565.3 L658.0,1566.3 L659.5,1567.2 L661.0,1568.2 L662.5,1569.2 L664.0,1570.2 L665.6,1571.2 L667.1,1572.2 L668.6,1573.2 L670.1,1574.3 L671.6,1575.3 L673.1,1576.3 L674.6,1577.3 L676.1,1578.3 L677.6,1579.4 L679.1,1580.4 L680.6,1581.4 L682.1,1582.5 L683.6,1583.5 L685.1,1584.6 L686.7,1585.6 L688.2,1586.7 L689.7,1587.7 L691.2,1588.8 L692.7,1589.8 L694.2,1590.9 L695.7,1591.9 L697.2,1593.0 L698.7,1594.0 L700.2,1595.1 L701.7,1596.1 L703.2,1597.2 L704.7,1598.2 L706.2,1599.3 L707.8,1600.3 L709.3,1601.4 L710.8,1602.4 L712.3,1603.5 L713.8,1604.5 L715.3,1605.6 L716.8,1606.6 L718.3,1607.6 L719.8,1608.6 L721.3,1609.7 L722.8,1610.7 L724.3,1611.7 L725.8,1612.7 L727.3,1613.7 L728.8,1614.7 L730.4,1615.7 L731.9,1616.7 L733.4,1617.7 L734.9,1618.7 L736.4,1619.7 L737.9,1620.7 L739.4,1621.6 L740.9,1622.6 L742.4,1623.6 L743.9,1624.5 L745.4,1625.5 L746.9,1626.4 L748.4,1627.3 L749.9,1628.3 L751.5,1629.2 L753.0,1630.1 L754.5,1631.0 L756.0,1631.9 L757.5,1632.8 L759.0,1633.7 L760.5,1634.6 L762.0,1635.5 L763.5,1636.4 L765.0,1637.2 L766.5,1638.1 L768.0,1638.9 L769.5,1639.8 L771.0,1640.6 L772.6,1641.4 L774.1,1642.2 L775.6,1643.0 L777.1,1643.8 L778.6,1644.6 L780.1,1645.4 L781.6,1646.1 L783.1,1646.9 L784.6,1647.6 L786.1,1648.3 L787.6,1649.0 L789.1,1649.8 L790.6,1650.4 L792.1,1651.1 L793.7,1651.8 L795.2,1652.4 L796.7,1653.1 L798.2,1653.7 L799.7,1654.3 L801.2,1655.0 L802.7,1655.6 L804.2,1656.1 L805.7,1656.7 L807.2,1657.3 L808.7,1657.8 L810.2,1658.4 L811.7,1658.9 L813.2,1659.4 L814.7,1659.9 L816.3,1660.4 L817.8,1660.9 L819.3,1661.3 L820.8,1661.8 L822.3,1662.2 L823.8,1662.7 L825.3,1663.1 L826.8,1663.5 L828.3,1663.9 L829.8,1664.2 L831.3,1664.6 L832.8,1665.0 L834.3,1665.3 L835.8,1665.7 L837.4,1666.0 L838.9,1666.3 L840.4,1666.6 L841.9,1666.9 L843.4,1667.2 L844.9,1667.5 L846.4,1667.8 L847.9,1668.0 L849.4,1668.3 L850.9,1668.5 L852.4,1668.8 L853.9,1669.0 L855.4,1669.3 L856.9,1669.5 L858.5,1669.7 L860.0,1669.9 L861.5,1670.1 L863.0,1670.4 L864.5,1670.6 L866.0,1670.8 L867.5,1670.9 L869.0,1671.1 L870.5,1671.3 L872.0,1671.5 L873.5,1671.7 L875.0,1671.8 L876.5,1672.0 L878.0,1672.1 L879.5,1672.3 L881.1,1672.4 L882.6,1672.6 L884.1,1672.7 L885.6,1672.9 L887.1,1673.0 L888.6,1673.1 L890.1,1673.2 L891.6,1673.4 L893.1,1673.5 L894.6,1673.6 L896.1,1673.7 L897.6,1673.8 L899.1,1673.9 L900.6,1674.0 L902.2,1674.1 L903.7,1674.2 L905.2,1674.3 L906.7,1674.3 L908.2,1674.4 L909.7,1674.5 L911.2,1674.6 L912.7,1674.7 L914.2,1674.7 L915.7,1674.8 L917.2,1674.9 L918.7,1674.9 L920.2,1675.0 L921.7,1675.0 L923.3,1675.1 L924.8,1675.1 L926.3,1675.2 L927.8,1675.2 L929.3,1675.3 L930.8,1675.3 L932.3,1675.4 L933.8,1675.4 L935.3,1675.5 L936.8,1675.5 L938.3,1675.5 L939.8,1675.6 L941.3,1675.6 L942.8,1675.7 L944.4,1675.7 L945.9,1675.7 L947.4,1675.7 L948.9,1675.8 L950.4,1675.8 L951.9,1675.8 L953.4,1675.9 L954.9,1675.9 L956.4,1675.9 L957.9,1675.9 L959.4,1675.9 L960.9,1676.0 L962.4,1676.0 L963.9,1676.0 L965.4,1676.0 L967.0,1676.0 L968.5,1676.1 L970.0,1676.1 L971.5,1676.1 L973.0,1676.1 L974.5,1676.1 L976.0,1676.1 L977.5,1676.2 L979.0,1676.2 L980.5,1676.2 L982.0,1676.2 L983.5,1676.2 L985.0,1676.2 L986.5,1676.2 L988.1,1676.2 L989.6,1676.2 L991.1,1676.3 L992.6,1676.3 L994.1,1676.3 L995.6,1676.3 L997.1,1676.3 L998.6,1676.3 L1000.1,1676.3 L1001.6,1676.3 L1003.1,1676.3 L1004.6,1676.3 L1006.1,1676.3 L1007.6,1676.3 L1009.2,1676.3 L1010.7,1676.4 L1012.2,1676.4 L1013.7,1676.4 L1015.2,1676.4 L1016.7,1676.4 L1018.2,1676.4 L1019.7,1676.4 L1021.2,1676.4 L1022.7,1676.4 L1024.2,1676.4 L1025.7,1676.4 L1027.2,1676.4 L1028.7,1676.4 L1030.2,1676.4 L1031.8,1676.4 L1033.3,1676.4 L1034.8,1676.4 L1036.3,1676.4 L1037.8,1676.4 L1039.3,1676.4 L1040.8,1676.4 L1042.3,1676.4 L1043.8,1676.4 L1045.3,1676.4 L1046.8,1676.4 L1048.3,1676.4 L1049.8,1676.4 L1051.3,1676.4 L1052.9,1676.4 L1054.4,1676.4 L1055.9,1676.5 L1057.4,1676.5 L1058.9,1676.5 L1060.4,1676.5 L1061.9,1676.5 L1063.4,1676.5 L1064.9,1676.5 L1066.4,1676.5 L1067.9,1676.5 L1069.4,1676.5 L1070.9,1676.5 L1072.4,1676.5 L1074.0,1676.5 L1075.5,1676.5 L1077.0,1676.5 L1078.5,1676.5 L1080.0,1676.5 L1081.5,1676.5 L1083.0,1676.5 L1084.5,1676.5 L1086.0,1676.5 L1087.5,1676.5 L1089.0,1676.5 L1090.5,1676.5 L1092.0,1676.5 L1093.5,1676.5 L1095.1,1676.5 L1096.6,1676.5 L1098.1,1676.5 L1099.6,1676.5 L1101.1,1676.5 L1102.6,1676.5 L1104.1,1676.5 L1105.6,1676.5 L1107.1,1676.5 L1108.6,1676.5 L1110.1,1676.5 L1111.6,1676.5 L1113.1,1676.5 L1114.6,1676.5 L1116.1,1676.5 L1117.7,1676.5 L1119.2,1676.5 L1120.7,1676.5 L1122.2,1676.5 L1123.7,1676.5 L1125.2,1676.5 L1126.7,1676.5 L1128.2,1676.5 L1129.7,1676.5 L1131.2,1676.5 L1132.7,1676.5 L1134.2,1676.5 L1135.7,1676.5 L1137.2,1676.5 L1138.8,1676.5 L1140.3,1676.5 L1141.8,1676.5 L1143.3,1676.5 L1144.8,1676.5 L1146.3,1676.5 L1147.8,1676.5 L1149.3,1676.5 L1150.8,1676.5 L1152.3,1676.5 L1153.8,1676.5 L1155.3,1676.5 L1156.8,1676.5 L1158.3,1676.5 L1159.9,1676.5 L1161.4,1676.5 L1162.9,1676.5 L1164.4,1676.5 L1165.9,1676.5 L1167.4,1676.5 L1168.9,1676.5 L1170.4,1676.5" fill="none" stroke="#0000ff" stroke-width="6.3" stroke-linejoin="round" stroke-dasharray="20.6 4" clip-path="url(#ci)"/>
<path d="M567.6,1380.7 L569.1,1380.5 L570.6,1380.4 L572.1,1380.3 L573.6,1380.2 L575.1,1380.1 L576.6,1380.1 L578.1,1380.0 L579.7,1380.0 L581.2,1380.1 L582.7,1380.1 L584.2,1380.1 L585.7,1380.2 L587.2,1380.3 L588.7,1380.4 L590.2,1380.5 L591.7,1380.7 L593.2,1380.8 L594.7,1381.0 L596.2,1381.2 L597.7,1381.4 L599.2,1381.6 L600.8,1381.9 L602.3,1382.1 L603.8,1382.4 L605.3,1382.7 L606.8,1383.0 L608.3,1383.4 L609.8,1383.7 L611.3,1384.1 L612.8,1384.4 L614.3,1384.8 L615.8,1385.2 L617.3,1385.6 L618.8,1386.1 L620.3,1386.5 L621.9,1387.0 L623.4,1387.5 L624.9,1388.0 L626.4,1388.5 L627.9,1389.0 L629.4,1389.5 L630.9,1390.1 L632.4,1390.6 L633.9,1391.2 L635.4,1391.8 L636.9,1392.4 L638.4,1393.1 L639.9,1393.7 L641.4,1394.4 L643.0,1395.1 L644.5,1395.8 L646.0,1396.5 L647.5,1397.3 L649.0,1398.1 L650.5,1398.9 L652.0,1399.7 L653.5,1400.6 L655.0,1401.4 L656.5,1402.3 L658.0,1403.3 L659.5,1404.2 L661.0,1405.2 L662.5,1406.2 L664.0,1407.2 L665.6,1408.3 L667.1,1409.4 L668.6,1410.5 L670.1,1411.7 L671.6,1412.8 L673.1,1414.0 L674.6,1415.3 L676.1,1416.5 L677.6,1417.8 L679.1,1419.2 L680.6,1420.5 L682.1,1421.9 L683.6,1423.3 L685.1,1424.8 L686.7,1426.3 L688.2,1427.8 L689.7,1429.3 L691.2,1430.9 L692.7,1432.5 L694.2,1434.1 L695.7,1435.8 L697.2,1437.5 L698.7,1439.2 L700.2,1441.0 L701.7,1442.8 L703.2,1444.6 L704.7,1446.4 L706.2,1448.2 L707.8,1450.1 L709.3,1452.0 L710.8,1453.9 L712.3,1455.9 L713.8,1457.8 L715.3,1459.8 L716.8,1461.8 L718.3,1463.8 L719.8,1465.8 L721.3,1467.9 L722.8,1469.9 L724.3,1472.0 L725.8,1474.1 L727.3,1476.2 L728.8,1478.3 L730.4,1480.4 L731.9,1482.5 L733.4,1484.6 L734.9,1486.7 L736.4,1488.9 L737.9,1491.0 L739.4,1493.2 L740.9,1495.3 L742.4,1497.5 L743.9,1499.7 L745.4,1501.8 L746.9,1504.0 L748.4,1506.2 L749.9,1508.3 L751.5,1510.5 L753.0,1512.6 L754.5,1514.8 L756.0,1517.0 L757.5,1519.1 L759.0,1521.3 L760.5,1523.4 L762.0,1525.6 L763.5,1527.8 L765.0,1529.9 L766.5,1532.0 L768.0,1534.2 L769.5,1536.3 L771.0,1538.4 L772.6,1540.6 L774.1,1542.7 L775.6,1544.8 L777.1,1546.9 L778.6,1549.0 L780.1,1551.0 L781.6,1553.1 L783.1,1555.2 L784.6,1557.2 L786.1,1559.2 L787.6,1561.3 L789.1,1563.3 L790.6,1565.2 L792.1,1567.2 L793.7,1569.2 L795.2,1571.1 L796.7,1573.1 L798.2,1575.0 L799.7,1576.9 L801.2,1578.8 L802.7,1580.7 L804.2,1582.6 L805.7,1584.5 L807.2,1586.3 L808.7,1588.2 L810.2,1590.0 L811.7,1591.8 L813.2,1593.6 L814.7,1595.4 L816.3,1597.2 L817.8,1598.9 L819.3,1600.7 L820.8,1602.4 L822.3,1604.1 L823.8,1605.8 L825.3,1607.4 L826.8,1609.1 L828.3,1610.7 L829.8,1612.3 L831.3,1613.8 L832.8,1615.4 L834.3,1616.9 L835.8,1618.4 L837.4,1619.9 L838.9,1621.4 L840.4,1622.8 L841.9,1624.2 L843.4,1625.6 L844.9,1626.9 L846.4,1628.3 L847.9,1629.6 L849.4,1630.8 L850.9,1632.1 L852.4,1633.3 L853.9,1634.5 L855.4,1635.7 L856.9,1636.9 L858.5,1638.0 L860.0,1639.1 L861.5,1640.2 L863.0,1641.2 L864.5,1642.3 L866.0,1643.3 L867.5,1644.2 L869.0,1645.2 L870.5,1646.1 L872.0,1647.0 L873.5,1647.9 L875.0,1648.8 L876.5,1649.6 L878.0,1650.4 L879.5,1651.2 L881.1,1652.0 L882.6,1652.8 L884.1,1653.5 L885.6,1654.2 L887.1,1654.9 L888.6,1655.6 L890.1,1656.2 L891.6,1656.9 L893.1,1657.5 L894.6,1658.1 L896.1,1658.7 L897.6,1659.2 L899.1,1659.8 L900.6,1660.3 L902.2,1660.8 L903.7,1661.3 L905.2,1661.8 L906.7,1662.3 L908.2,1662.7 L909.7,1663.2 L911.2,1663.6 L912.7,1664.0 L914.2,1664.4 L915.7,1664.8 L917.2,1665.2 L918.7,1665.6 L920.2,1665.9 L921.7,1666.3 L923.3,1666.6 L924.8,1666.9 L926.3,1667.2 L927.8,1667.5 L929.3,1667.8 L930.8,1668.1 L932.3,1668.4 L933.8,1668.6 L935.3,1668.9 L936.8,1669.2 L938.3,1669.4 L939.8,1669.6 L941.3,1669.9 L942.8,1670.1 L944.4,1670.3 L945.9,1670.5 L947.4,1670.7 L948.9,1670.9 L950.4,1671.1 L951.9,1671.2 L953.4,1671.4 L954.9,1671.6 L956.4,1671.7 L957.9,1671.9 L959.4,1672.0 L960.9,1672.2 L962.4,1672.3 L963.9,1672.5 L965.4,1672.6 L967.0,1672.7 L968.5,1672.9 L970.0,1673.0 L971.5,1673.1 L973.0,1673.2 L974.5,1673.3 L976.0,1673.4 L977.5,1673.5 L979.0,1673.6 L980.5,1673.7 L982.0,1673.8 L983.5,1673.9 L985.0,1674.0 L986.5,1674.1 L988.1,1674.1 L989.6,1674.2 L991.1,1674.3 L992.6,1674.4 L994.1,1674.4 L995.6,1674.5 L997.1,1674.6 L998.6,1674.6 L1000.1,1674.7 L1001.6,1674.8 L1003.1,1674.8 L1004.6,1674.9 L1006.1,1674.9 L1007.6,1675.0 L1009.2,1675.0 L1010.7,1675.1 L1012.2,1675.1 L1013.7,1675.2 L1015.2,1675.2 L1016.7,1675.3 L1018.2,1675.3 L1019.7,1675.3 L1021.2,1675.4 L1022.7,1675.4 L1024.2,1675.4 L1025.7,1675.5 L1027.2,1675.5 L1028.7,1675.5 L1030.2,1675.6 L1031.8,1675.6 L1033.3,1675.6 L1034.8,1675.7 L1036.3,1675.7 L1037.8,1675.7 L1039.3,1675.7 L1040.8,1675.8 L1042.3,1675.8 L1043.8,1675.8 L1045.3,1675.8 L1046.8,1675.9 L1048.3,1675.9 L1049.8,1675.9 L1051.3,1675.9 L1052.9,1675.9 L1054.4,1676.0 L1055.9,1676.0 L1057.4,1676.0 L1058.9,1676.0 L1060.4,1676.0 L1061.9,1676.1 L1063.4,1676.1 L1064.9,1676.1 L1066.4,1676.1 L1067.9,1676.1 L1069.4,1676.1 L1070.9,1676.1 L1072.4,1676.2 L1074.0,1676.2 L1075.5,1676.2 L1077.0,1676.2 L1078.5,1676.2 L1080.0,1676.2 L1081.5,1676.2 L1083.0,1676.2 L1084.5,1676.2 L1086.0,1676.3 L1087.5,1676.3 L1089.0,1676.3 L1090.5,1676.3 L1092.0,1676.3 L1093.5,1676.3 L1095.1,1676.3 L1096.6,1676.3 L1098.1,1676.3 L1099.6,1676.3 L1101.1,1676.3 L1102.6,1676.3 L1104.1,1676.3 L1105.6,1676.4 L1107.1,1676.4 L1108.6,1676.4 L1110.1,1676.4 L1111.6,1676.4 L1113.1,1676.4 L1114.6,1676.4 L1116.1,1676.4 L1117.7,1676.4 L1119.2,1676.4 L1120.7,1676.4 L1122.2,1676.4 L1123.7,1676.4 L1125.2,1676.4 L1126.7,1676.4 L1128.2,1676.4 L1129.7,1676.4 L1131.2,1676.4 L1132.7,1676.4 L1134.2,1676.4 L1135.7,1676.4 L1137.2,1676.4 L1138.8,1676.4 L1140.3,1676.4 L1141.8,1676.4 L1143.3,1676.5 L1144.8,1676.5 L1146.3,1676.5 L1147.8,1676.5 L1149.3,1676.5 L1150.8,1676.5 L1152.3,1676.5 L1153.8,1676.5 L1155.3,1676.5 L1156.8,1676.5 L1158.3,1676.5 L1159.9,1676.5 L1161.4,1676.5 L1162.9,1676.5 L1164.4,1676.5 L1165.9,1676.5 L1167.4,1676.5 L1168.9,1676.5 L1170.4,1676.5" fill="none" stroke="#008000" stroke-width="6.3" stroke-linejoin="round" stroke-dasharray="20.6 4" clip-path="url(#ci)"/>
<path d="M567.6,988.4 L569.1,990.0 L570.6,991.7 L572.1,993.2 L573.6,994.8 L575.1,996.3 L576.6,997.8 L578.1,999.3 L579.7,1000.8 L581.2,1002.2 L582.7,1003.7 L584.2,1005.1 L585.7,1006.5 L587.2,1007.9 L588.7,1009.3 L590.2,1010.7 L591.7,1012.1 L593.2,1013.5 L594.7,1014.9 L596.2,1016.3 L597.7,1017.6 L599.2,1019.0 L600.8,1020.4 L602.3,1021.8 L603.8,1023.3 L605.3,1024.7 L606.8,1026.1 L608.3,1027.6 L609.8,1029.0 L611.3,1030.5 L612.8,1032.0 L614.3,1033.5 L615.8,1035.0 L617.3,1036.5 L618.8,1038.1 L620.3,1039.7 L621.9,1041.3 L623.4,1042.9 L624.9,1044.6 L626.4,1046.3 L627.9,1048.0 L629.4,1049.7 L630.9,1051.5 L632.4,1053.3 L633.9,1055.2 L635.4,1057.1 L636.9,1059.0 L638.4,1061.0 L639.9,1063.0 L641.4,1065.0 L643.0,1067.1 L644.5,1069.2 L646.0,1071.3 L647.5,1073.6 L649.0,1075.8 L650.5,1078.1 L652.0,1080.4 L653.5,1082.8 L655.0,1085.3 L656.5,1087.7 L658.0,1090.3 L659.5,1092.8 L661.0,1095.5 L662.5,1098.1 L664.0,1100.9 L665.6,1103.6 L667.1,1106.4 L668.6,1109.3 L670.1,1112.2 L671.6,1115.2 L673.1,1118.2 L674.6,1121.2 L676.1,1124.3 L677.6,1127.5 L679.1,1130.7 L680.6,1133.9 L682.1,1137.2 L683.6,1140.5 L685.1,1143.9 L686.7,1147.3 L688.2,1150.7 L689.7,1154.2 L691.2,1157.8 L692.7,1161.4 L694.2,1165.0 L695.7,1168.6 L697.2,1172.3 L698.7,1176.0 L700.2,1179.8 L701.7,1183.6 L703.2,1187.4 L704.7,1191.2 L706.2,1195.1 L707.8,1199.0 L709.3,1202.9 L710.8,1206.8 L712.3,1210.8 L713.8,1214.7 L715.3,1218.7 L716.8,1222.7 L718.3,1226.7 L719.8,1230.7 L721.3,1234.8 L722.8,1238.8 L724.3,1242.8 L725.8,1246.9 L727.3,1250.9 L728.8,1255.0 L730.4,1259.1 L731.9,1263.2 L733.4,1267.3 L734.9,1271.4 L736.4,1275.5 L737.9,1279.6 L739.4,1283.7 L740.9,1287.9 L742.4,1292.0 L743.9,1296.1 L745.4,1300.2 L746.9,1304.3 L748.4,1308.4 L749.9,1312.5 L751.5,1316.6 L753.0,1320.7 L754.5,1324.7 L756.0,1328.8 L757.5,1332.8 L759.0,1336.9 L760.5,1340.9 L762.0,1345.0 L763.5,1349.0 L765.0,1353.0 L766.5,1357.1 L768.0,1361.1 L769.5,1365.1 L771.0,1369.1 L772.6,1373.2 L774.1,1377.2 L775.6,1381.2 L777.1,1385.2 L778.6,1389.2 L780.1,1393.2 L781.6,1397.3 L783.1,1401.3 L784.6,1405.3 L786.1,1409.3 L787.6,1413.3 L789.1,1417.3 L790.6,1421.3 L792.1,1425.3 L793.7,1429.3 L795.2,1433.3 L796.7,1437.3 L798.2,1441.3 L799.7,1445.2 L801.2,1449.2 L802.7,1453.2 L804.2,1457.1 L805.7,1461.0 L807.2,1465.0 L808.7,1468.8 L810.2,1472.7 L811.7,1476.6 L813.2,1480.4 L814.7,1484.3 L816.3,1488.1 L817.8,1491.8 L819.3,1495.5 L820.8,1499.2 L822.3,1502.9 L823.8,1506.5 L825.3,1510.1 L826.8,1513.7 L828.3,1517.2 L829.8,1520.6 L831.3,1524.1 L832.8,1527.4 L834.3,1530.7 L835.8,1534.0 L837.4,1537.3 L838.9,1540.4 L840.4,1543.6 L841.9,1546.8 L843.4,1550.0 L844.9,1553.1 L846.4,1556.2 L847.9,1559.3 L849.4,1562.4 L850.9,1565.4 L852.4,1568.3 L853.9,1571.2 L855.4,1574.0 L856.9,1576.7 L858.5,1579.4 L860.0,1582.0 L861.5,1584.5 L863.0,1587.1 L864.5,1589.5 L866.0,1592.0 L867.5,1594.3 L869.0,1596.6 L870.5,1598.9 L872.0,1601.1 L873.5,1603.2 L875.0,1605.3 L876.5,1607.3 L878.0,1609.3 L879.5,1611.2 L881.1,1613.1 L882.6,1614.9 L884.1,1616.6 L885.6,1618.3 L887.1,1620.0 L888.6,1621.6 L890.1,1623.2 L891.6,1624.8 L893.1,1626.3 L894.6,1627.8 L896.1,1629.2 L897.6,1630.6 L899.1,1632.0 L900.6,1633.3 L902.2,1634.7 L903.7,1635.9 L905.2,1637.2 L906.7,1638.5 L908.2,1639.7 L909.7,1640.9 L911.2,1642.0 L912.7,1643.1 L914.2,1644.2 L915.7,1645.3 L917.2,1646.3 L918.7,1647.3 L920.2,1648.2 L921.7,1649.2 L923.3,1650.0 L924.8,1650.9 L926.3,1651.7 L927.8,1652.5 L929.3,1653.3 L930.8,1654.1 L932.3,1654.9 L933.8,1655.6 L935.3,1656.3 L936.8,1657.0 L938.3,1657.7 L939.8,1658.4 L941.3,1659.0 L942.8,1659.6 L944.4,1660.2 L945.9,1660.8 L947.4,1661.3 L948.9,1661.9 L950.4,1662.4 L951.9,1662.9 L953.4,1663.4 L954.9,1663.8 L956.4,1664.2 L957.9,1664.7 L959.4,1665.1 L960.9,1665.5 L962.4,1665.8 L963.9,1666.2 L965.4,1666.5 L967.0,1666.9 L968.5,1667.2 L970.0,1667.5 L971.5,1667.8 L973.0,1668.0 L974.5,1668.3 L976.0,1668.6 L977.5,1668.8 L979.0,1669.1 L980.5,1669.3 L982.0,1669.5 L983.5,1669.8 L985.0,1670.0 L986.5,1670.2 L988.1,1670.4 L989.6,1670.6 L991.1,1670.8 L992.6,1671.0 L994.1,1671.1 L995.6,1671.3 L997.1,1671.5 L998.6,1671.7 L1000.1,1671.8 L1001.6,1672.0 L1003.1,1672.1 L1004.6,1672.3 L1006.1,1672.4 L1007.6,1672.5 L1009.2,1672.7 L1010.7,1672.8 L1012.2,1672.9 L1013.7,1673.0 L1015.2,1673.1 L1016.7,1673.2 L1018.2,1673.3 L1019.7,1673.4 L1021.2,1673.5 L1022.7,1673.6 L1024.2,1673.7 L1025.7,1673.8 L1027.2,1673.9 L1028.7,1674.0 L1030.2,1674.1 L1031.8,1674.1 L1033.3,1674.2 L1034.8,1674.3 L1036.3,1674.4 L1037.8,1674.4 L1039.3,1674.5 L1040.8,1674.6 L1042.3,1674.6 L1043.8,1674.7 L1045.3,1674.7 L1046.8,1674.8 L1048.3,1674.8 L1049.8,1674.9 L1051.3,1674.9 L1052.9,1675.0 L1054.4,1675.0 L1055.9,1675.1 L1057.4,1675.1 L1058.9,1675.2 L1060.4,1675.2 L1061.9,1675.3 L1063.4,1675.3 L1064.9,1675.3 L1066.4,1675.4 L1067.9,1675.4 L1069.4,1675.4 L1070.9,1675.5 L1072.4,1675.5 L1074.0,1675.5 L1075.5,1675.6 L1077.0,1675.6 L1078.5,1675.6 L1080.0,1675.6 L1081.5,1675.7 L1083.0,1675.7 L1084.5,1675.7 L1086.0,1675.8 L1087.5,1675.8 L1089.0,1675.8 L1090.5,1675.8 L1092.0,1675.8 L1093.5,1675.9 L1095.1,1675.9 L1096.6,1675.9 L1098.1,1675.9 L1099.6,1675.9 L1101.1,1676.0 L1102.6,1676.0 L1104.1,1676.0 L1105.6,1676.0 L1107.1,1676.0 L1108.6,1676.0 L1110.1,1676.1 L1111.6,1676.1 L1113.1,1676.1 L1114.6,1676.1 L1116.1,1676.1 L1117.7,1676.1 L1119.2,1676.1 L1120.7,1676.2 L1122.2,1676.2 L1123.7,1676.2 L1125.2,1676.2 L1126.7,1676.2 L1128.2,1676.2 L1129.7,1676.2 L1131.2,1676.2 L1132.7,1676.2 L1134.2,1676.2 L1135.7,1676.2 L1137.2,1676.3 L1138.8,1676.3 L1140.3,1676.3 L1141.8,1676.3 L1143.3,1676.3 L1144.8,1676.3 L1146.3,1676.3 L1147.8,1676.3 L1149.3,1676.3 L1150.8,1676.3 L1152.3,1676.3 L1153.8,1676.3 L1155.3,1676.3 L1156.8,1676.3 L1158.3,1676.4 L1159.9,1676.4 L1161.4,1676.4 L1162.9,1676.4 L1164.4,1676.4 L1165.9,1676.4 L1167.4,1676.4 L1168.9,1676.4 L1170.4,1676.4" fill="none" stroke="#dc143c" stroke-width="6.3" stroke-linejoin="round" stroke-dasharray="20.6 4" clip-path="url(#ci)"/>
<text transform="translate(268.06,77.13) scale(0.9677,1)" font-size="77.19">100</text>
<text transform="translate(305.25,507.44) scale(0.9792,1)" font-size="76.44">10</text>
<text transform="translate(342.69,937.90) scale(0.9362,1)" font-size="75.76">1</text>
<text transform="translate(284.89,1368.85) scale(0.9785,1)" font-size="76.62">0.1</text>
<text transform="translate(248.00,1799.75) scale(0.9731,1)" font-size="76.62">0.01</text>
<text transform="translate(387.77,1870.13) scale(0.9817,1)" font-size="77.19">10</text>
<text transform="translate(1231.28,1870.23) scale(0.9649,1)" font-size="77.19">100</text>
<text transform="translate(2074.29,1870.23) scale(0.9632,1)" font-size="77.19">1000</text>
<text transform="translate(522.71,1689.75) scale(1.0273,1)" font-size="39.85" stroke="#000" stroke-width="1.10" vector-effect="non-scaling-stroke" stroke-linejoin="round">0</text>
<text transform="translate(503.48,1574.83) scale(0.9951,1)" font-size="39.85" stroke="#000" stroke-width="1.10" vector-effect="non-scaling-stroke" stroke-linejoin="round">10</text>
<text transform="translate(503.15,1459.92) scale(1.0037,1)" font-size="39.85" stroke="#000" stroke-width="1.10" vector-effect="non-scaling-stroke" stroke-linejoin="round">20</text>
<text transform="translate(503.04,1345.00) scale(1.0065,1)" font-size="39.85" stroke="#000" stroke-width="1.10" vector-effect="non-scaling-stroke" stroke-linejoin="round">30</text>
<text transform="translate(504.17,1230.08) scale(0.9771,1)" font-size="39.85" stroke="#000" stroke-width="1.10" vector-effect="non-scaling-stroke" stroke-linejoin="round">40</text>
<text transform="translate(502.62,1115.17) scale(1.0176,1)" font-size="39.85" stroke="#000" stroke-width="1.10" vector-effect="non-scaling-stroke" stroke-linejoin="round">50</text>
<text transform="translate(503.25,1000.25) scale(1.0010,1)" font-size="39.85" stroke="#000" stroke-width="1.10" vector-effect="non-scaling-stroke" stroke-linejoin="round">60</text>
<text transform="translate(547.39,1726.86) scale(1.0403,1)" font-size="39.11" stroke="#000" stroke-width="1.10" vector-effect="non-scaling-stroke" stroke-linejoin="round">10</text>
<text transform="translate(839.88,1726.86) scale(0.9855,1)" font-size="39.11" stroke="#000" stroke-width="1.10" vector-effect="non-scaling-stroke" stroke-linejoin="round">100</text>
<text transform="translate(1131.35,1726.86) scale(0.9655,1)" font-size="39.11" stroke="#000" stroke-width="1.10" vector-effect="non-scaling-stroke" stroke-linejoin="round">1000</text>
<text transform="translate(1031.71,1984.70) scale(1.1453,1)" font-size="95.88">E</text>
<text transform="translate(1123.20,1992.33) scale(0.5248,1)" font-size="110.48" stroke="#000" stroke-width="1.30" vector-effect="non-scaling-stroke" stroke-linejoin="round">[</text>
<text transform="translate(1143.14,1984.73) scale(1.0148,1)" font-size="91.55">keV</text>
<text transform="translate(1302.90,2006.51) scale(0.9632,1)" font-size="138.81">/</text>
<text transform="translate(1344.09,1985.50) scale(1.1170,1)" font-size="89.79">amu</text>
<text transform="translate(1516.54,1992.33) scale(0.5189,1)" font-size="110.48" stroke="#000" stroke-width="1.30" vector-effect="non-scaling-stroke" stroke-linejoin="round">]</text>
<text transform="translate(180.98,1090.70) rotate(-90) scale(1.0030,1)" font-size="101.56" x="0.00 64.92 127.76">TCS</text>
<text transform="translate(187.42,879.16) rotate(-90) scale(0.4714,1)" font-size="110.60" stroke="#000" stroke-width="1.30" vector-effect="non-scaling-stroke" stroke-linejoin="round">[</text>
<text transform="translate(180.00,858.81) rotate(-90) scale(0.8420,1)" font-size="107.65">Å</text>
<text transform="translate(128.00,791.95) rotate(-90) scale(1.0178,1)" font-size="66.57">2</text>
<text transform="translate(187.42,759.08) rotate(-90) scale(0.4983,1)" font-size="110.60" stroke="#000" stroke-width="1.30" vector-effect="non-scaling-stroke" stroke-linejoin="round">]</text>
<text transform="translate(1785.29,159.00) scale(0.9142,1)" font-size="77.58">A</text>
<text transform="translate(1837.55,119.23) scale(1.1384,1)" font-size="46.43">q+</text>
<text transform="translate(1909.89,166.76) scale(1.0083,1)" font-size="77.63">+</text>
<text transform="translate(1785.29,335.80) scale(0.9142,1)" font-size="77.58">A</text>
<text transform="translate(1837.55,296.03) scale(1.1384,1)" font-size="46.43">q+</text>
<text transform="translate(1909.89,343.56) scale(1.0083,1)" font-size="77.63">+</text>
<text transform="translate(1971.00,159.61) scale(0.9517,1)" font-size="78.81">CH</text>
<text transform="translate(2074.08,175.00) scale(1.0791,1)" font-size="52.02">4</text>
<text transform="translate(1970.85,336.32) scale(1.0110,1)" font-size="77.92">C</text>
<text transform="translate(1784.20,248.32) scale(0.9555,1)" font-size="77.77">IAM-PCM</text>
<text transform="translate(1783.99,424.40) scale(0.9416,1)" font-size="76.22">q=1</text>
<text transform="translate(1783.85,513.45) scale(0.9896,1)" font-size="76.46">q=2</text>
<text transform="translate(1783.96,601.98) scale(0.9447,1)" font-size="76.80">q=3</text>
</svg>
</body></html>
